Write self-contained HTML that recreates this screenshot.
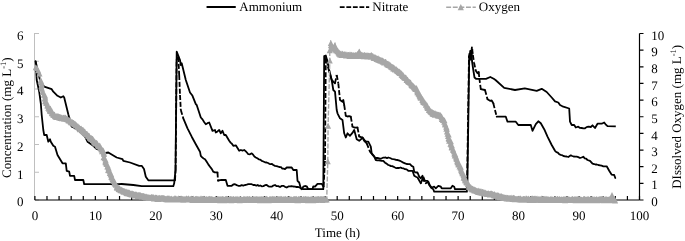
<!DOCTYPE html><html><head><meta charset="utf-8"><style>
html,body{margin:0;padding:0;background:#fff}
body{width:685px;height:241px;position:relative;overflow:hidden;font-family:"Liberation Serif", serif;font-size:13px;color:#000}
</style></head><body>
<svg width="685" height="241" viewBox="0 0 685 241" style="position:absolute;left:0;top:0;will-change:transform;opacity:0.999">
<path d="M34.5 33.0V200.0M34.5 200.00h4.5M34.5 172.25h4.5M34.5 144.50h4.5M34.5 116.75h4.5M34.5 89.00h4.5M34.5 61.25h4.5M34.5 33.50h4.5" stroke="#bfbfbf" stroke-width="1" fill="none"/>
<path d="M35.6 61.2L38.0 72.0L40.0 80.0L44.2 86.7L51.7 89.2L53.3 91.7L57.5 95.8L60.8 97.5L63.3 96.2L64.2 97.5L68.3 114.2L71.7 126.7L75.8 128.3L80.0 131.7L85.0 136.7L87.5 141.7L93.3 145.8L96.7 149.0L100.0 150.0L103.3 153.3L108.3 152.5L116.7 157.5L122.5 159.2L123.3 160.8L130.0 162.5L139.2 165.8L141.7 165.8L144.0 169.0L145.8 176.7L148.3 180.3L175.0 180.3M176.6 60.0L178.3 57.0M183.3 118.3L187.5 128.3L191.7 136.7L195.8 144.2L200.0 151.7L200.8 155.8L202.2 157.4L203.6 158.5L205.0 159.2L206.7 161.8L208.3 164.4L210.0 166.7L211.7 168.9L213.3 171.7L214.7 172.3L216.1 172.3L217.5 172.5M218.0 180.8L219.8 180.2L221.7 180.0L225.8 180.0L227.5 185.8L231.7 185.8L233.3 184.5L235.0 184.2L236.7 185.1L238.3 185.8L240.0 185.8L241.7 185.1L243.3 185.6L245.0 185.0L246.7 184.6L248.3 184.1L250.0 184.2L251.7 184.2L253.3 185.0L255.0 185.0L256.3 185.7L257.7 185.0L259.0 185.9L260.4 185.5L261.7 186.3L263.4 186.1L265.0 185.2L266.7 185.0L268.4 186.3L270.0 186.7L271.7 186.7L273.3 185.6L275.0 185.0L276.7 186.2L278.3 186.1L280.0 187.0L281.6 185.9L283.3 185.8L285.0 186.8L286.7 187.5L288.4 186.4L290.0 186.3L291.7 186.1L293.3 186.5L295.0 186.7L296.6 187.0L298.3 187.0L300.0 187.7L301.7 189.2L303.3 186.7L305.0 186.0L306.7 186.3L308.3 189.2L312.5 189.2L313.3 186.3L315.0 186.7L317.5 183.8L321.7 183.8L323.6 186.7M325.8 58.0L326.9 60.0M331.7 80.0L335.0 83.3M340.0 100.0L342.5 101.7L343.3 100.0L344.2 105.0M345.8 115.8L347.5 116.5L349.1 116.2L350.8 116.7M352.5 126.7L354.2 127.5L355.8 127.7L357.5 127.5M359.2 136.7L360.9 137.0L362.5 137.5L364.2 140.8L366.7 143.3M370.0 151.7L371.4 153.3L372.8 155.1L374.2 156.7L375.8 160.0L377.3 160.3L378.8 160.4L380.3 160.5L381.8 160.8L383.3 160.8L385.0 162.7L386.6 163.6L388.3 165.0L389.6 165.4L391.0 166.2L392.3 166.2L393.7 166.8L395.0 167.5L396.4 168.2L397.8 167.8L399.1 168.0L400.5 167.5L401.9 168.1L403.3 168.3L405.0 169.2L406.6 169.4L408.3 170.8L412.5 170.8L414.2 175.8L415.9 176.8L417.5 177.5L420.8 183.3M425.8 183.3L428.3 181.7L430.8 187.5L433.3 189.2L434.2 191.7L466.9 191.7L467.0 189.0M469.0 56.0L470.0 60.0M475.8 70.8L477.5 73.2L478.7 72.0M480.8 89.2L485.0 90.0M487.5 99.2L490.0 100.8L491.7 100.5L493.3 103.3M496.7 116.7L505.8 116.7L507.5 121.7L515.8 121.7L518.3 125.0L530.8 125.0L532.5 130.8L535.8 124.2L538.3 121.3L540.8 123.3L544.2 129.2L547.5 136.7L551.7 145.0L555.0 150.8L556.4 152.1L557.8 152.6L559.2 154.2L560.7 154.9L562.1 155.2L563.5 156.0L565.0 156.3L566.6 156.5L568.3 157.0L570.8 155.3L572.2 156.0L573.6 156.5L575.0 156.7L576.7 156.6L578.3 157.1L580.0 158.0L581.6 157.5L583.3 156.7L584.7 158.3L586.1 158.6L587.5 160.0L590.0 160.8L592.5 163.7L594.0 164.0L595.4 164.5L596.8 164.5L598.3 165.0L600.0 165.3L601.6 165.7L603.3 166.3L606.7 166.3L609.2 170.8L611.7 174.7L614.2 175.0L615.3 178.0" fill="none" stroke="#000" stroke-width="1.8" stroke-linejoin="round" stroke-linecap="round"/>
<path d="M175.0 180.3L175.6 170.0" fill="none" stroke="#000" stroke-width="1.8" stroke-dasharray="5 1.9"/>
<path d="M175.6 170.0L176.6 60.0" fill="none" stroke="#000" stroke-width="1.8" stroke-dasharray="5 1.9"/>
<path d="M178.3 57.0L179.2 75.0" fill="none" stroke="#000" stroke-width="1.8" stroke-dasharray="5 1.9"/>
<path d="M179.2 75.0L180.0 95.0" fill="none" stroke="#000" stroke-width="1.8" stroke-dasharray="5 1.9"/>
<path d="M180.0 95.0L180.8 110.0" fill="none" stroke="#000" stroke-width="1.8" stroke-dasharray="5 1.9"/>
<path d="M180.8 110.0L183.3 118.3" fill="none" stroke="#000" stroke-width="1.8" stroke-dasharray="5 1.9"/>
<path d="M217.5 172.5L218.0 180.8" fill="none" stroke="#000" stroke-width="1.8" stroke-dasharray="5 1.9"/>
<path d="M323.6 186.7L325.0 160.0" fill="none" stroke="#000" stroke-width="1.8" stroke-dasharray="5 1.9"/>
<path d="M325.0 160.0L325.8 58.0" fill="none" stroke="#000" stroke-width="1.8" stroke-dasharray="5 1.9"/>
<path d="M326.9 60.0L328.2 68.0" fill="none" stroke="#000" stroke-width="1.8" stroke-dasharray="5 1.9"/>
<path d="M328.2 68.0L331.7 80.0" fill="none" stroke="#000" stroke-width="1.8" stroke-dasharray="5 1.9"/>
<path d="M335.0 83.3L336.7 75.0" fill="none" stroke="#000" stroke-width="1.8" stroke-dasharray="5 1.9"/>
<path d="M336.7 75.0L338.3 83.3" fill="none" stroke="#000" stroke-width="1.8" stroke-dasharray="5 1.9"/>
<path d="M338.3 83.3L340.0 100.0" fill="none" stroke="#000" stroke-width="1.8" stroke-dasharray="5 1.9"/>
<path d="M344.2 105.0L345.8 115.8" fill="none" stroke="#000" stroke-width="1.8" stroke-dasharray="5 1.9"/>
<path d="M350.8 116.7L352.5 126.7" fill="none" stroke="#000" stroke-width="1.8" stroke-dasharray="5 1.9"/>
<path d="M357.5 127.5L359.2 136.7" fill="none" stroke="#000" stroke-width="1.8" stroke-dasharray="5 1.9"/>
<path d="M366.7 143.3L370.0 151.7" fill="none" stroke="#000" stroke-width="1.8" stroke-dasharray="5 1.9"/>
<path d="M420.8 183.3L423.3 176.7" fill="none" stroke="#000" stroke-width="1.8" stroke-dasharray="5 1.9"/>
<path d="M423.3 176.7L425.8 183.3" fill="none" stroke="#000" stroke-width="1.8" stroke-dasharray="5 1.9"/>
<path d="M467.0 189.0L469.0 56.0" fill="none" stroke="#000" stroke-width="1.8" stroke-dasharray="5 1.9"/>
<path d="M470.0 60.0L470.6 53.0" fill="none" stroke="#000" stroke-width="1.8" stroke-dasharray="5 1.9"/>
<path d="M470.6 53.0L471.2 59.0" fill="none" stroke="#000" stroke-width="1.8" stroke-dasharray="5 1.9"/>
<path d="M471.2 59.0L472.2 49.0" fill="none" stroke="#000" stroke-width="1.8" stroke-dasharray="5 1.9"/>
<path d="M472.2 49.0L472.9 55.0" fill="none" stroke="#000" stroke-width="1.8" stroke-dasharray="5 1.9"/>
<path d="M472.9 55.0L474.0 62.5" fill="none" stroke="#000" stroke-width="1.8" stroke-dasharray="5 1.9"/>
<path d="M474.0 62.5L475.8 70.8" fill="none" stroke="#000" stroke-width="1.8" stroke-dasharray="5 1.9"/>
<path d="M478.7 72.0L479.3 78.0" fill="none" stroke="#000" stroke-width="1.8" stroke-dasharray="5 1.9"/>
<path d="M479.3 78.0L480.8 89.2" fill="none" stroke="#000" stroke-width="1.8" stroke-dasharray="5 1.9"/>
<path d="M485.0 90.0L487.5 99.2" fill="none" stroke="#000" stroke-width="1.8" stroke-dasharray="5 1.9"/>
<path d="M493.3 103.3L496.7 116.7" fill="none" stroke="#000" stroke-width="1.8" stroke-dasharray="5 1.9"/>
<polyline points="35.6,61.2 36.7,80.0 39.2,91.7 40.8,103.3 41.7,115.0 43.3,130.0 44.2,135.0 46.7,135.0 48.3,141.7 50.0,139.2 50.8,141.7 53.3,145.8 55.0,146.7 57.5,155.0 62.5,163.3 65.8,163.3 66.7,170.8 69.2,171.7 70.0,175.8 74.2,175.8 75.0,180.0 83.3,180.0 84.2,184.2 118.3,184.2 121.7,184.0 133.3,185.0 141.7,186.2 173.3,186.2 174.2,183.3 175.5,170.0 176.7,51.7 180.0,60.0 180.8,65.0 181.7,63.3 185.8,80.0 190.0,92.5 192.5,95.8 195.8,104.2 196.7,105.0 200.8,117.5 202.5,119.4 204.1,122.0 205.8,124.2 207.5,123.2 209.2,122.5 212.5,130.8 215.0,130.0 215.8,132.5 217.5,131.4 219.2,130.0 220.8,133.3 222.5,130.8 224.2,135.0 225.8,135.0 229.2,140.8 230.6,142.6 231.9,143.7 233.3,145.8 235.8,145.3 239.2,150.8 240.9,150.0 242.5,150.6 244.2,150.0 245.6,151.1 246.9,152.5 248.3,154.2 250.0,154.3 251.7,153.3 253.1,154.7 254.4,156.5 255.8,157.5 257.3,158.3 258.8,159.3 260.2,159.6 261.7,160.8 263.4,161.5 265.0,162.3 266.7,162.5 268.0,163.0 269.3,163.8 270.7,164.2 272.0,164.0 273.3,165.0 275.0,165.9 276.6,166.2 278.3,166.7 279.6,167.0 281.0,167.2 282.3,168.6 283.7,168.7 285.0,169.2 286.7,167.5 291.7,167.5 293.3,170.0 296.7,170.0 297.5,180.8 299.2,182.5 300.8,188.3 303.3,189.2 323.3,189.2 324.2,56.0 325.8,55.5 327.5,62.0 329.2,70.0 331.7,80.0 333.3,90.0 335.0,91.7 336.7,110.0 337.5,113.3 340.0,118.3 342.5,120.0 344.2,133.3 345.8,137.5 347.5,133.3 350.0,135.8 351.4,134.1 352.8,132.4 354.2,130.0 356.7,139.2 359.2,140.8 360.9,139.4 362.5,137.5 365.0,140.8 366.6,141.7 368.3,141.7 370.8,146.7 371.7,153.3 373.4,155.3 375.0,157.5 376.3,158.0 377.7,157.8 379.0,158.5 380.4,158.6 381.7,158.3 383.0,157.7 384.3,157.6 385.7,157.5 387.0,158.2 388.3,157.5 390.0,158.0 391.6,158.8 393.3,159.2 394.6,159.3 396.0,159.8 397.3,160.0 398.7,160.3 400.0,160.8 401.7,161.7 403.3,162.6 405.0,163.3 406.7,164.0 408.3,164.1 410.0,164.2 411.6,165.9 413.3,166.7 414.2,171.7 415.9,172.5 417.5,172.5 419.2,176.7 420.8,178.3 422.5,175.8 423.3,180.8 427.5,180.8 429.2,185.0 431.7,187.5 434.2,186.7 435.8,188.3 438.3,185.8 440.8,186.7 441.7,188.3 450.8,188.3 452.5,185.8 454.2,186.7 455.0,189.2 467.3,189.2 469.3,54.0 469.6,58.0 470.2,51.0 470.8,57.0 471.9,47.3 471.6,55.0 472.0,61.0 473.3,70.0 474.5,77.5 476.0,78.8 486.0,78.8 490.3,77.0 493.7,78.8 495.5,80.0 504.2,87.8 515.0,90.0 524.8,88.4 536.7,90.8 541.7,88.8 546.7,92.0 551.7,97.5 555.0,101.3 558.3,102.5 560.0,105.0 563.3,106.7 569.2,108.5 570.0,121.7 571.7,125.0 574.2,125.0 575.8,127.5 578.3,126.7 580.0,127.9 581.7,128.0 583.4,128.3 585.0,128.3 586.6,127.1 588.3,126.7 590.8,127.0 592.5,125.3 595.0,128.0 597.5,123.7 601.7,123.7 604.2,122.5 605.9,124.7 607.5,126.2 615.8,126.3" fill="none" stroke="#000" stroke-width="1.8" stroke-linejoin="round"/>
<path d="M34.9 200.0H639.5M34.90 200.0v-4M46.99 200.0v-4M59.08 200.0v-4M71.18 200.0v-4M83.27 200.0v-4M95.36 200.0v-4M107.45 200.0v-4M119.54 200.0v-4M131.64 200.0v-4M143.73 200.0v-4M155.82 200.0v-4M167.91 200.0v-4M180.00 200.0v-4M192.10 200.0v-4M204.19 200.0v-4M216.28 200.0v-4M228.37 200.0v-4M240.46 200.0v-4M252.56 200.0v-4M264.65 200.0v-4M276.74 200.0v-4M288.83 200.0v-4M300.92 200.0v-4M313.02 200.0v-4M325.11 200.0v-4M337.20 200.0v-4M349.29 200.0v-4M361.38 200.0v-4M373.48 200.0v-4M385.57 200.0v-4M397.66 200.0v-4M409.75 200.0v-4M421.84 200.0v-4M433.94 200.0v-4M446.03 200.0v-4M458.12 200.0v-4M470.21 200.0v-4M482.30 200.0v-4M494.40 200.0v-4M506.49 200.0v-4M518.58 200.0v-4M530.67 200.0v-4M542.76 200.0v-4M554.86 200.0v-4M566.95 200.0v-4M579.04 200.0v-4M591.13 200.0v-4M603.22 200.0v-4M615.32 200.0v-4M627.41 200.0v-4M639.50 200.0v-4" stroke="#000" stroke-width="1.2" fill="none"/>
<path d="M639.5 33.5V200.0M639.5 200.00h4M639.5 183.35h4M639.5 166.70h4M639.5 150.05h4M639.5 133.40h4M639.5 116.75h4M639.5 100.10h4M639.5 83.45h4M639.5 66.80h4M639.5 50.15h4M639.5 33.50h4" stroke="#000" stroke-width="1.2" fill="none"/>
<polyline points="35.7,67.3 37.5,68.5 39.5,73.5 40.9,81.0 42.8,90.0 45.4,100.0 48.6,107.5 52.2,112.5 56.0,115.8 60.5,117.0 65.0,117.5 70.0,120.0 73.3,122.8 83.3,130.3 91.7,138.0 98.3,144.6 103.3,151.5 105.0,160.0 109.2,171.0 112.5,178.3 116.7,186.2 123.3,190.8 133.3,193.8 146.7,196.6 160.0,197.9 175.0,198.5 214.0,198.9 325.5,198.9 326.7,199.5 327.8,161.2 328.1,125.8 329.8,60.5 329.7,50.3 330.9,43.0 332.0,46.0 333.5,48.0 335.0,44.2 336.0,49.0 340.0,53.3 348.3,54.7 356.7,55.0 358.3,54.0 359.3,51.0 360.3,54.5 364.0,55.0 364.4,54.0 364.8,55.0 371.0,55.6 371.4,54.6 371.8,55.8 378.3,58.4 385.0,61.6 391.7,66.2 399.0,71.2 406.3,78.3 415.8,88.3 423.2,100.0 429.0,109.2 433.3,113.0 440.3,115.0 443.8,120.0 447.0,130.0 449.0,138.3 452.6,148.3 455.2,155.0 457.0,160.0 461.2,170.0 465.2,180.0 469.0,185.8 473.3,189.2 481.7,191.7 493.3,194.0 505.0,197.2 521.7,198.6 569.0,199.0 609.5,199.1 615.2,199.3" fill="none" stroke="#a6a6a6" stroke-width="1.4" stroke-dasharray="4.9 1.7"/>
<path d="M35.7 64.3L38.7 70.3L32.7 70.3ZM37.0 65.1L40.0 71.1L34.0 71.1ZM38.2 67.2L41.2 73.2L35.2 73.2ZM39.5 70.4L42.5 76.4L36.5 76.4ZM40.7 76.9L43.7 82.9L37.7 82.9ZM40.6 77.6L43.6 83.6L37.6 83.6ZM41.5 79.2L44.5 85.2L38.5 85.2ZM41.7 81.3L44.7 87.3L38.7 87.3ZM41.3 83.2L44.3 89.2L38.3 89.2ZM41.6 84.7L44.6 90.7L38.6 90.7ZM42.0 85.8L45.0 91.8L39.0 91.8ZM42.9 88.5L45.9 94.5L39.9 94.5ZM42.8 88.9L45.8 94.9L39.8 94.9ZM43.9 91.4L46.9 97.4L40.9 97.4ZM44.2 91.8L47.2 97.8L41.2 97.8ZM45.1 92.6L48.1 98.6L42.1 98.6ZM45.3 94.4L48.3 100.4L42.3 100.4ZM44.6 95.4L47.6 101.4L41.6 101.4ZM45.2 97.8L48.2 103.8L42.2 103.8ZM45.3 98.3L48.3 104.3L42.3 104.3ZM46.4 98.8L49.4 104.8L43.4 104.8ZM46.6 99.1L49.6 105.1L43.6 105.1ZM46.2 100.1L49.2 106.1L43.2 106.1ZM47.5 101.3L50.5 107.3L44.5 107.3ZM47.3 102.4L50.3 108.4L44.3 108.4ZM47.8 102.7L50.8 108.7L44.8 108.7ZM48.7 104.2L51.7 110.2L45.7 110.2ZM48.2 104.8L51.2 110.8L45.2 110.8ZM49.0 105.8L52.0 111.8L46.0 111.8ZM49.6 105.3L52.6 111.3L46.6 111.3ZM50.4 105.5L53.4 111.5L47.4 111.5ZM49.9 107.1L52.9 113.1L46.9 113.1ZM49.8 107.1L52.8 113.1L46.8 113.1ZM50.0 107.9L53.0 113.9L47.0 113.9ZM51.4 108.2L54.4 114.2L48.4 114.2ZM52.0 108.3L55.0 114.3L49.0 114.3ZM51.8 109.7L54.8 115.7L48.8 115.7ZM52.1 110.1L55.1 116.1L49.1 116.1ZM52.5 110.4L55.5 116.4L49.5 116.4ZM52.8 110.5L55.8 116.5L49.8 116.5ZM53.2 111.4L56.2 117.4L50.2 117.4ZM53.5 111.8L56.5 117.8L50.5 117.8ZM53.9 111.4L56.9 117.4L50.9 117.4ZM54.2 112.0L57.2 118.0L51.2 118.0ZM54.6 111.4L57.6 117.4L51.6 117.4ZM54.9 112.7L57.9 118.7L51.9 118.7ZM55.3 112.9L58.3 118.9L52.3 118.9ZM55.6 113.7L58.6 119.7L52.6 119.7ZM56.0 113.8L59.0 119.8L53.0 119.8ZM56.3 113.1L59.3 119.1L53.3 119.1ZM56.7 113.4L59.7 119.4L53.7 119.4ZM57.0 113.9L60.0 119.9L54.0 119.9ZM57.4 113.0L60.4 119.0L54.4 119.0ZM57.7 113.7L60.7 119.7L54.7 119.7ZM58.1 113.4L61.1 119.4L55.1 119.4ZM58.4 113.4L61.4 119.4L55.4 119.4ZM58.8 113.4L61.8 119.4L55.8 119.4ZM59.1 114.6L62.1 120.6L56.1 120.6ZM59.5 113.7L62.5 119.7L56.5 119.7ZM59.8 114.0L62.8 120.0L56.8 120.0ZM60.2 114.3L63.2 120.3L57.2 120.3ZM60.5 115.1L63.5 121.1L57.5 121.1ZM60.9 114.0L63.9 120.0L57.9 120.0ZM61.2 114.6L64.2 120.6L58.2 120.6ZM61.6 114.7L64.6 120.7L58.6 120.7ZM61.9 115.3L64.9 121.3L58.9 121.3ZM62.3 115.2L65.3 121.2L59.3 121.2ZM62.6 115.3L65.6 121.3L59.6 121.3ZM63.0 114.5L66.0 120.5L60.0 120.5ZM63.3 114.7L66.3 120.7L60.3 120.7ZM63.7 114.7L66.7 120.7L60.7 120.7ZM64.0 115.5L67.0 121.5L61.0 121.5ZM64.4 115.7L67.4 121.7L61.4 121.7ZM64.7 114.5L67.7 120.5L61.7 120.5ZM65.1 114.6L68.1 120.6L62.1 120.6ZM65.4 114.8L68.4 120.8L62.4 120.8ZM65.8 115.0L68.8 121.0L62.8 121.0ZM66.1 115.6L69.1 121.6L63.1 121.6ZM66.5 115.9L69.5 121.9L63.5 121.9ZM66.8 115.6L69.8 121.6L63.8 121.6ZM67.2 115.4L70.2 121.4L64.2 121.4ZM67.5 116.2L70.5 122.2L64.5 122.2ZM67.9 116.3L70.9 122.3L64.9 122.3ZM68.2 116.7L71.2 122.7L65.2 122.7ZM68.6 117.5L71.6 123.5L65.6 123.5ZM68.9 117.3L71.9 123.3L65.9 123.3ZM69.2 117.2L72.2 123.2L66.2 123.2ZM69.6 117.5L72.6 123.5L66.6 123.5ZM69.9 117.8L72.9 123.8L66.9 123.8ZM70.3 117.1L73.3 123.1L67.3 123.1ZM70.6 118.7L73.6 124.7L67.6 124.7ZM71.0 118.8L74.0 124.8L68.0 124.8ZM71.3 119.3L74.3 125.3L68.3 125.3ZM71.7 119.4L74.7 125.4L68.7 125.4ZM72.0 119.1L75.0 125.1L69.0 125.1ZM72.4 119.4L75.4 125.4L69.4 125.4ZM72.7 119.3L75.7 125.3L69.7 125.3ZM73.1 120.4L76.1 126.4L70.1 126.4ZM73.4 119.8L76.4 125.8L70.4 125.8ZM73.8 120.1L76.8 126.1L70.8 126.1ZM74.1 120.6L77.1 126.6L71.1 126.6ZM74.5 120.7L77.5 126.7L71.5 126.7ZM74.8 121.3L77.8 127.3L71.8 127.3ZM75.2 121.1L78.2 127.1L72.2 127.1ZM75.5 121.3L78.5 127.3L72.5 127.3ZM75.9 121.8L78.9 127.8L72.9 127.8ZM76.2 122.0L79.2 128.0L73.2 128.0ZM76.6 122.6L79.6 128.6L73.6 128.6ZM76.9 122.4L79.9 128.4L73.9 128.4ZM77.3 123.9L80.3 129.9L74.3 129.9ZM77.6 123.8L80.6 129.8L74.6 129.8ZM78.0 123.3L81.0 129.3L75.0 129.3ZM78.3 123.8L81.3 129.8L75.3 129.8ZM78.7 124.2L81.7 130.2L75.7 130.2ZM79.0 124.5L82.0 130.5L76.0 130.5ZM79.4 124.4L82.4 130.4L76.4 130.4ZM79.7 125.7L82.7 131.7L76.7 131.7ZM80.1 126.2L83.1 132.2L77.1 132.2ZM80.4 125.7L83.4 131.7L77.4 131.7ZM80.8 126.0L83.8 132.0L77.8 132.0ZM81.1 125.6L84.1 131.6L78.1 131.6ZM81.5 125.9L84.5 131.9L78.5 131.9ZM81.8 126.5L84.8 132.5L78.8 132.5ZM82.2 126.7L85.2 132.7L79.2 132.7ZM82.5 127.8L85.5 133.8L79.5 133.8ZM82.9 127.0L85.9 133.0L79.9 133.0ZM83.2 127.1L86.2 133.1L80.2 133.1ZM83.6 128.8L86.6 134.8L80.6 134.8ZM83.9 128.5L86.9 134.5L80.9 134.5ZM84.3 128.2L87.3 134.2L81.3 134.2ZM84.6 129.2L87.6 135.2L81.6 135.2ZM85.0 128.7L88.0 134.7L82.0 134.7ZM85.3 129.8L88.3 135.8L82.3 135.8ZM85.7 130.8L88.7 136.8L82.7 136.8ZM86.0 130.9L89.0 136.9L83.0 136.9ZM86.4 131.0L89.4 137.0L83.4 137.0ZM86.7 130.7L89.7 136.7L83.7 136.7ZM87.1 131.1L90.1 137.1L84.1 137.1ZM87.4 131.2L90.4 137.2L84.4 137.2ZM87.8 132.4L90.8 138.4L84.8 138.4ZM88.1 132.3L91.1 138.3L85.1 138.3ZM88.5 133.0L91.5 139.0L85.5 139.0ZM88.8 132.7L91.8 138.7L85.8 138.7ZM89.2 132.8L92.2 138.8L86.2 138.8ZM89.5 134.0L92.5 140.0L86.5 140.0ZM89.9 134.6L92.9 140.6L86.9 140.6ZM90.2 134.7L93.2 140.7L87.2 140.7ZM90.6 135.0L93.6 141.0L87.6 141.0ZM90.9 135.3L93.9 141.3L87.9 141.3ZM91.3 135.5L94.3 141.5L88.3 141.5ZM91.6 135.1L94.6 141.1L88.6 141.1ZM92.0 135.9L95.0 141.9L89.0 141.9ZM92.3 136.0L95.3 142.0L89.3 142.0ZM92.7 135.8L95.7 141.8L89.7 141.8ZM93.0 136.2L96.0 142.2L90.0 142.2ZM93.4 136.9L96.4 142.9L90.4 142.9ZM93.7 137.2L96.7 143.2L90.7 143.2ZM94.1 138.2L97.1 144.2L91.1 144.2ZM94.4 139.0L97.4 145.0L91.4 145.0ZM94.8 138.6L97.8 144.6L91.8 144.6ZM95.1 139.7L98.1 145.7L92.1 145.7ZM95.5 140.1L98.5 146.1L92.5 146.1ZM95.8 140.4L98.8 146.4L92.8 146.4ZM96.2 139.8L99.2 145.8L93.2 145.8ZM96.5 140.0L99.5 146.0L93.5 146.0ZM96.9 140.3L99.9 146.3L93.9 146.3ZM97.2 140.6L100.2 146.6L94.2 146.6ZM97.6 141.0L100.6 147.0L94.6 147.0ZM97.9 142.0L100.9 148.0L94.9 148.0ZM98.3 142.8L101.3 148.8L95.3 148.8ZM98.6 143.1L101.6 149.1L95.6 149.1ZM99.0 143.0L102.0 149.0L96.0 149.0ZM99.8 142.6L102.8 148.6L96.8 148.6ZM99.9 144.4L102.9 150.4L96.9 150.4ZM100.5 144.6L103.5 150.6L97.5 150.6ZM100.4 144.2L103.4 150.2L97.4 150.2ZM101.2 144.9L104.2 150.9L98.2 150.9ZM101.6 146.4L104.6 152.4L98.6 152.4ZM101.3 146.0L104.3 152.0L98.3 152.0ZM102.5 147.0L105.5 153.0L99.5 153.0ZM101.7 146.5L104.7 152.5L98.7 152.5ZM102.0 148.2L105.0 154.2L99.0 154.2ZM103.3 147.5L106.3 153.5L100.3 153.5ZM103.7 149.3L106.7 155.3L100.7 155.3ZM103.8 149.7L106.8 155.7L100.8 155.7ZM104.0 151.1L107.0 157.1L101.0 157.1ZM103.5 154.2L106.5 160.2L100.5 160.2ZM104.8 155.2L107.8 161.2L101.8 161.2ZM105.6 156.8L108.6 162.8L102.6 162.8ZM105.9 158.5L108.9 164.5L102.9 164.5ZM105.2 158.5L108.2 164.5L102.2 164.5ZM105.7 159.4L108.7 165.4L102.7 165.4ZM106.5 160.4L109.5 166.4L103.5 166.4ZM106.6 161.1L109.6 167.1L103.6 167.1ZM107.7 162.3L110.7 168.3L104.7 168.3ZM107.3 163.6L110.3 169.6L104.3 169.6ZM108.4 164.3L111.4 170.3L105.4 170.3ZM108.7 165.3L111.7 171.3L105.7 171.3ZM108.5 166.3L111.5 172.3L105.5 172.3ZM108.1 167.1L111.1 173.1L105.1 173.1ZM108.7 167.3L111.7 173.3L105.7 173.3ZM109.9 168.3L112.9 174.3L106.9 174.3ZM109.8 170.0L112.8 176.0L106.8 176.0ZM110.3 170.1L113.3 176.1L107.3 176.1ZM110.6 171.3L113.6 177.3L107.6 177.3ZM111.3 171.3L114.3 177.3L108.3 177.3ZM111.3 172.3L114.3 178.3L108.3 178.3ZM111.3 173.9L114.3 179.9L108.3 179.9ZM112.0 174.4L115.0 180.4L109.0 180.4ZM112.7 175.7L115.7 181.7L109.7 181.7ZM112.6 176.0L115.6 182.0L109.6 182.0ZM113.0 176.5L116.0 182.5L110.0 182.5ZM113.6 177.0L116.6 183.0L110.6 183.0ZM113.7 177.7L116.7 183.7L110.7 183.7ZM114.7 178.7L117.7 184.7L111.7 184.7ZM115.0 179.8L118.0 185.8L112.0 185.8ZM114.4 179.8L117.4 185.8L111.4 185.8ZM115.8 180.9L118.8 186.9L112.8 186.9ZM114.9 180.4L117.9 186.4L111.9 186.4ZM115.7 181.0L118.7 187.0L112.7 187.0ZM115.8 181.7L118.8 187.7L112.8 187.7ZM116.8 183.5L119.8 189.5L113.8 189.5ZM116.8 184.5L119.8 190.5L113.8 190.5ZM117.2 183.6L120.2 189.6L114.2 189.6ZM117.5 184.7L120.5 190.7L114.5 190.7ZM117.9 184.8L120.9 190.8L114.9 190.8ZM118.2 184.3L121.2 190.3L115.2 190.3ZM118.6 185.6L121.6 191.6L115.6 191.6ZM118.9 186.0L121.9 192.0L115.9 192.0ZM119.3 185.1L122.3 191.1L116.3 191.1ZM119.6 186.5L122.6 192.5L116.6 192.5ZM120.0 185.9L123.0 191.9L117.0 191.9ZM120.3 186.3L123.3 192.3L117.3 192.3ZM120.7 187.3L123.7 193.3L117.7 193.3ZM121.0 187.3L124.0 193.3L118.0 193.3ZM121.4 186.5L124.4 192.5L118.4 192.5ZM121.7 187.2L124.7 193.2L118.7 193.2ZM122.1 187.5L125.1 193.5L119.1 193.5ZM122.4 187.5L125.4 193.5L119.4 193.5ZM122.8 187.5L125.8 193.5L119.8 193.5ZM123.1 188.0L126.1 194.0L120.1 194.0ZM123.5 188.7L126.5 194.7L120.5 194.7ZM123.8 187.8L126.8 193.8L120.8 193.8ZM124.2 188.7L127.2 194.7L121.2 194.7ZM124.5 188.6L127.5 194.6L121.5 194.6ZM124.9 188.1L127.9 194.1L121.9 194.1ZM125.2 188.7L128.2 194.7L122.2 194.7ZM125.6 189.2L128.6 195.2L122.6 195.2ZM125.9 189.2L128.9 195.2L122.9 195.2ZM126.3 188.6L129.3 194.6L123.3 194.6ZM126.6 190.1L129.6 196.1L123.6 196.1ZM127.0 189.9L130.0 195.9L124.0 195.9ZM127.3 190.3L130.3 196.3L124.3 196.3ZM127.7 189.1L130.7 195.1L124.7 195.1ZM128.0 189.4L131.0 195.4L125.0 195.4ZM128.4 189.2L131.4 195.2L125.4 195.2ZM128.7 190.4L131.7 196.4L125.7 196.4ZM129.1 189.7L132.1 195.7L126.1 195.7ZM129.4 189.6L132.4 195.6L126.4 195.6ZM129.8 190.2L132.8 196.2L126.8 196.2ZM130.1 191.0L133.1 197.0L127.1 197.0ZM130.5 191.0L133.5 197.0L127.5 197.0ZM130.8 190.3L133.8 196.3L127.8 196.3ZM131.2 190.2L134.2 196.2L128.2 196.2ZM131.5 191.5L134.5 197.5L128.5 197.5ZM131.9 191.0L134.9 197.0L128.9 197.0ZM132.2 191.3L135.2 197.3L129.2 197.3ZM132.6 190.5L135.6 196.5L129.6 196.5ZM132.9 190.6L135.9 196.6L129.9 196.6ZM133.3 191.6L136.3 197.6L130.3 197.6ZM133.6 191.3L136.6 197.3L130.6 197.3ZM134.0 190.9L137.0 196.9L131.0 196.9ZM134.3 192.2L137.3 198.2L131.3 198.2ZM134.7 191.8L137.7 197.8L131.7 197.8ZM135.0 192.2L138.0 198.2L132.0 198.2ZM135.4 191.2L138.4 197.2L132.4 197.2ZM135.7 192.4L138.7 198.4L132.7 198.4ZM136.1 191.3L139.1 197.3L133.1 197.3ZM136.4 192.6L139.4 198.6L133.4 198.6ZM136.8 192.0L139.8 198.0L133.8 198.0ZM137.1 191.9L140.1 197.9L134.1 197.9ZM137.5 192.3L140.5 198.3L134.5 198.3ZM137.8 192.9L140.8 198.9L134.8 198.9ZM138.2 192.0L141.2 198.0L135.2 198.0ZM138.5 191.9L141.5 197.9L135.5 197.9ZM138.9 192.6L141.9 198.6L135.9 198.6ZM139.2 192.2L142.2 198.2L136.2 198.2ZM139.6 192.1L142.6 198.1L136.6 198.1ZM139.9 192.2L142.9 198.2L136.9 198.2ZM140.3 192.1L143.3 198.1L137.3 198.1ZM140.6 192.4L143.6 198.4L137.6 198.4ZM141.0 192.7L144.0 198.7L138.0 198.7ZM141.3 192.7L144.3 198.7L138.3 198.7ZM141.7 193.5L144.7 199.5L138.7 199.5ZM142.0 192.9L145.0 198.9L139.0 198.9ZM142.4 193.3L145.4 199.3L139.4 199.3ZM142.7 192.8L145.7 198.8L139.7 198.8ZM143.1 193.2L146.1 199.2L140.1 199.2ZM143.4 192.7L146.4 198.7L140.4 198.7ZM143.8 193.2L146.8 199.2L140.8 199.2ZM144.1 192.9L147.1 198.9L141.1 198.9ZM144.5 194.0L147.5 200.0L141.5 200.0ZM144.8 193.8L147.8 199.8L141.8 199.8ZM145.2 193.4L148.2 199.4L142.2 199.4ZM145.5 193.9L148.5 199.9L142.5 199.9ZM145.9 194.6L148.9 200.6L142.9 200.6ZM146.2 193.5L149.2 199.5L143.2 199.5ZM146.6 194.6L149.6 200.6L143.6 200.6ZM146.9 194.1L149.9 200.1L143.9 200.1ZM147.3 194.2L150.3 200.2L144.3 200.2ZM147.6 194.7L150.6 200.7L144.6 200.7ZM148.0 194.1L151.0 200.1L145.0 200.1ZM148.3 194.3L151.3 200.3L145.3 200.3ZM148.7 194.6L151.7 200.6L145.7 200.6ZM149.0 195.1L152.0 201.1L146.0 201.1ZM149.4 194.2L152.4 200.2L146.4 200.2ZM149.7 194.9L152.7 200.9L146.7 200.9ZM150.1 194.8L153.1 200.8L147.1 200.8ZM150.4 194.7L153.4 200.7L147.4 200.7ZM150.8 194.4L153.8 200.4L147.8 200.4ZM151.1 194.4L154.1 200.4L148.1 200.4ZM151.5 194.0L154.5 200.0L148.5 200.0ZM151.8 194.1L154.8 200.1L148.8 200.1ZM152.2 194.0L155.2 200.0L149.2 200.0ZM152.5 195.1L155.5 201.1L149.5 201.1ZM152.9 194.4L155.9 200.4L149.9 200.4ZM153.2 194.3L156.2 200.3L150.2 200.3ZM153.6 194.2L156.6 200.2L150.6 200.2ZM153.9 195.4L156.9 201.4L150.9 201.4ZM154.3 195.4L157.3 201.4L151.3 201.4ZM154.6 195.2L157.6 201.2L151.6 201.2ZM155.0 194.6L158.0 200.6L152.0 200.6ZM155.3 194.6L158.3 200.6L152.3 200.6ZM155.7 194.7L158.7 200.7L152.7 200.7ZM156.0 195.0L159.0 201.0L153.0 201.0ZM156.4 194.6L159.4 200.6L153.4 200.6ZM156.7 195.1L159.7 201.1L153.7 201.1ZM157.1 194.8L160.1 200.8L154.1 200.8ZM157.4 195.9L160.4 201.9L154.4 201.9ZM157.8 195.9L160.8 201.9L154.8 201.9ZM158.1 195.3L161.1 201.3L155.1 201.3ZM158.5 194.9L161.5 200.9L155.5 200.9ZM158.8 196.0L161.8 202.0L155.8 202.0ZM159.2 195.1L162.2 201.1L156.2 201.1ZM159.5 195.2L162.5 201.2L156.5 201.2ZM159.9 194.7L162.9 200.7L156.9 200.7ZM160.2 195.3L163.2 201.3L157.2 201.3ZM160.6 195.4L163.6 201.4L157.6 201.4ZM160.9 195.5L163.9 201.5L157.9 201.5ZM161.3 195.1L164.3 201.1L158.3 201.1ZM161.6 195.5L164.6 201.5L158.6 201.5ZM162.0 194.8L165.0 200.8L159.0 200.8ZM162.3 195.2L165.3 201.2L159.3 201.2ZM162.7 194.9L165.7 200.9L159.7 200.9ZM163.0 195.4L166.0 201.4L160.0 201.4ZM163.4 194.9L166.4 200.9L160.4 200.9ZM163.7 194.9L166.7 200.9L160.7 200.9ZM164.1 195.3L167.1 201.3L161.1 201.3ZM164.4 195.2L167.4 201.2L161.4 201.2ZM164.8 195.8L167.8 201.8L161.8 201.8ZM165.1 195.7L168.1 201.7L162.1 201.7ZM165.5 196.0L168.5 202.0L162.5 202.0ZM165.8 195.9L168.8 201.9L162.8 201.9ZM166.2 196.0L169.2 202.0L163.2 202.0ZM166.5 196.3L169.5 202.3L163.5 202.3ZM166.9 195.6L169.9 201.6L163.9 201.6ZM167.2 195.5L170.2 201.5L164.2 201.5ZM167.6 196.5L170.6 202.5L164.6 202.5ZM167.9 195.2L170.9 201.2L164.9 201.2ZM168.3 196.1L171.3 202.1L165.3 202.1ZM168.6 196.0L171.6 202.0L165.6 202.0ZM169.0 195.1L172.0 201.1L166.0 201.1ZM169.3 196.3L172.3 202.3L166.3 202.3ZM169.7 196.4L172.7 202.4L166.7 202.4ZM170.0 196.0L173.0 202.0L167.0 202.0ZM170.4 196.2L173.4 202.2L167.4 202.2ZM170.7 196.3L173.7 202.3L167.7 202.3ZM171.1 195.4L174.1 201.4L168.1 201.4ZM171.4 195.9L174.4 201.9L168.4 201.9ZM171.8 195.9L174.8 201.9L168.8 201.9ZM172.1 196.4L175.1 202.4L169.1 202.4ZM172.5 196.4L175.5 202.4L169.5 202.4ZM172.8 196.5L175.8 202.5L169.8 202.5ZM173.2 196.1L176.2 202.1L170.2 202.1ZM173.5 196.6L176.5 202.6L170.5 202.6ZM173.9 196.3L176.9 202.3L170.9 202.3ZM174.2 196.3L177.2 202.3L171.2 202.3ZM174.6 195.6L177.6 201.6L171.6 201.6ZM174.9 195.3L177.9 201.3L171.9 201.3ZM175.3 195.5L178.3 201.5L172.3 201.5ZM175.6 195.8L178.6 201.8L172.6 201.8ZM176.0 195.5L179.0 201.5L173.0 201.5ZM176.3 196.6L179.3 202.6L173.3 202.6ZM176.7 196.2L179.7 202.2L173.7 202.2ZM177.0 196.3L180.0 202.3L174.0 202.3ZM177.4 196.3L180.4 202.3L174.4 202.3ZM177.7 196.3L180.7 202.3L174.7 202.3ZM178.1 196.1L181.1 202.1L175.1 202.1ZM178.4 195.3L181.4 201.3L175.4 201.3ZM178.8 196.5L181.8 202.5L175.8 202.5ZM179.1 196.5L182.1 202.5L176.1 202.5ZM179.5 196.1L182.5 202.1L176.5 202.1ZM179.8 196.2L182.8 202.2L176.8 202.2ZM180.2 196.3L183.2 202.3L177.2 202.3ZM180.5 195.5L183.5 201.5L177.5 201.5ZM180.9 196.5L183.9 202.5L177.9 202.5ZM181.2 195.7L184.2 201.7L178.2 201.7ZM181.6 195.5L184.6 201.5L178.6 201.5ZM181.9 195.8L184.9 201.8L178.9 201.8ZM182.3 196.5L185.3 202.5L179.3 202.5ZM182.6 195.7L185.6 201.7L179.6 201.7ZM183.0 196.5L186.0 202.5L180.0 202.5ZM183.3 196.8L186.3 202.8L180.3 202.8ZM183.7 196.1L186.7 202.1L180.7 202.1ZM184.0 196.0L187.0 202.0L181.0 202.0ZM184.4 196.1L187.4 202.1L181.4 202.1ZM184.7 196.4L187.7 202.4L181.7 202.4ZM185.1 196.6L188.1 202.6L182.1 202.6ZM185.4 196.3L188.4 202.3L182.4 202.3ZM185.8 196.4L188.8 202.4L182.8 202.4ZM186.1 195.5L189.1 201.5L183.1 201.5ZM186.5 195.6L189.5 201.6L183.5 201.6ZM186.8 195.8L189.8 201.8L183.8 201.8ZM187.2 196.5L190.2 202.5L184.2 202.5ZM187.5 195.9L190.5 201.9L184.5 201.9ZM187.9 196.3L190.9 202.3L184.9 202.3ZM188.2 195.5L191.2 201.5L185.2 201.5ZM188.6 195.5L191.6 201.5L185.6 201.5ZM188.9 195.8L191.9 201.8L185.9 201.8ZM189.3 196.5L192.3 202.5L186.3 202.5ZM189.6 196.5L192.6 202.5L186.6 202.5ZM190.0 196.5L193.0 202.5L187.0 202.5ZM190.3 195.9L193.3 201.9L187.3 201.9ZM190.7 196.2L193.7 202.2L187.7 202.2ZM191.0 196.2L194.0 202.2L188.0 202.2ZM191.4 196.2L194.4 202.2L188.4 202.2ZM191.7 195.6L194.7 201.6L188.7 201.6ZM192.1 196.8L195.1 202.8L189.1 202.8ZM192.4 195.8L195.4 201.8L189.4 201.8ZM192.8 196.9L195.8 202.9L189.8 202.9ZM193.1 196.9L196.1 202.9L190.1 202.9ZM193.5 195.5L196.5 201.5L190.5 201.5ZM193.8 196.2L196.8 202.2L190.8 202.2ZM194.2 196.7L197.2 202.7L191.2 202.7ZM194.5 197.0L197.5 203.0L191.5 203.0ZM194.9 196.2L197.9 202.2L191.9 202.2ZM195.2 195.9L198.2 201.9L192.2 201.9ZM195.6 195.8L198.6 201.8L192.6 201.8ZM195.9 196.9L198.9 202.9L192.9 202.9ZM196.3 195.8L199.3 201.8L193.3 201.8ZM196.6 196.4L199.6 202.4L193.6 202.4ZM197.0 195.7L200.0 201.7L194.0 201.7ZM197.3 196.3L200.3 202.3L194.3 202.3ZM197.7 197.0L200.7 203.0L194.7 203.0ZM198.0 195.7L201.0 201.7L195.0 201.7ZM198.4 196.8L201.4 202.8L195.4 202.8ZM198.7 196.3L201.7 202.3L195.7 202.3ZM199.1 196.9L202.1 202.9L196.1 202.9ZM199.4 196.6L202.4 202.6L196.4 202.6ZM199.8 195.9L202.8 201.9L196.8 201.9ZM200.1 196.9L203.1 202.9L197.1 202.9ZM200.5 196.3L203.5 202.3L197.5 202.3ZM200.8 195.6L203.8 201.6L197.8 201.6ZM201.2 195.6L204.2 201.6L198.2 201.6ZM201.5 196.3L204.5 202.3L198.5 202.3ZM201.9 196.3L204.9 202.3L198.9 202.3ZM202.2 196.0L205.2 202.0L199.2 202.0ZM202.6 195.8L205.6 201.8L199.6 201.8ZM202.9 196.1L205.9 202.1L199.9 202.1ZM203.3 196.1L206.3 202.1L200.3 202.1ZM203.6 196.9L206.6 202.9L200.6 202.9ZM204.0 195.6L207.0 201.6L201.0 201.6ZM204.3 196.7L207.3 202.7L201.3 202.7ZM204.7 196.9L207.7 202.9L201.7 202.9ZM205.0 195.8L208.0 201.8L202.0 201.8ZM205.4 197.0L208.4 203.0L202.4 203.0ZM205.7 196.7L208.7 202.7L202.7 202.7ZM206.1 197.0L209.1 203.0L203.1 203.0ZM206.4 196.1L209.4 202.1L203.4 202.1ZM206.8 196.2L209.8 202.2L203.8 202.2ZM207.1 196.2L210.1 202.2L204.1 202.2ZM207.5 197.1L210.5 203.1L204.5 203.1ZM207.8 196.5L210.8 202.5L204.8 202.5ZM208.2 196.2L211.2 202.2L205.2 202.2ZM208.5 196.3L211.5 202.3L205.5 202.3ZM208.9 196.1L211.9 202.1L205.9 202.1ZM209.2 195.7L212.2 201.7L206.2 201.7ZM209.6 195.8L212.6 201.8L206.6 201.8ZM209.9 196.9L212.9 202.9L206.9 202.9ZM210.3 196.1L213.3 202.1L207.3 202.1ZM210.6 197.1L213.6 203.1L207.6 203.1ZM211.0 196.0L214.0 202.0L208.0 202.0ZM211.3 196.1L214.3 202.1L208.3 202.1ZM211.7 196.4L214.7 202.4L208.7 202.4ZM212.0 196.0L215.0 202.0L209.0 202.0ZM212.4 196.2L215.4 202.2L209.4 202.2ZM212.7 197.1L215.7 203.1L209.7 203.1ZM213.1 197.0L216.1 203.0L210.1 203.0ZM213.4 196.9L216.4 202.9L210.4 202.9ZM213.8 196.6L216.8 202.6L210.8 202.6ZM214.1 197.1L217.1 203.1L211.1 203.1ZM214.5 197.1L217.5 203.1L211.5 203.1ZM214.8 196.5L217.8 202.5L211.8 202.5ZM215.2 196.8L218.2 202.8L212.2 202.8ZM215.5 195.8L218.5 201.8L212.5 201.8ZM215.9 196.8L218.9 202.8L212.9 202.8ZM216.2 196.4L219.2 202.4L213.2 202.4ZM216.6 196.8L219.6 202.8L213.6 202.8ZM216.9 196.7L219.9 202.7L213.9 202.7ZM217.3 196.1L220.3 202.1L214.3 202.1ZM217.6 195.8L220.6 201.8L214.6 201.8ZM218.0 197.1L221.0 203.1L215.0 203.1ZM218.3 195.9L221.3 201.9L215.3 201.9ZM218.7 196.4L221.7 202.4L215.7 202.4ZM219.0 196.2L222.0 202.2L216.0 202.2ZM219.4 196.1L222.4 202.1L216.4 202.1ZM219.7 196.8L222.7 202.8L216.7 202.8ZM220.1 197.2L223.1 203.2L217.1 203.2ZM220.4 196.1L223.4 202.1L217.4 202.1ZM220.8 196.7L223.8 202.7L217.8 202.7ZM221.1 196.2L224.1 202.2L218.1 202.2ZM221.5 196.5L224.5 202.5L218.5 202.5ZM221.8 196.3L224.8 202.3L218.8 202.3ZM222.2 196.0L225.2 202.0L219.2 202.0ZM222.5 195.9L225.5 201.9L219.5 201.9ZM222.9 196.0L225.9 202.0L219.9 202.0ZM223.2 197.1L226.2 203.1L220.2 203.1ZM223.6 196.4L226.6 202.4L220.6 202.4ZM223.9 196.0L226.9 202.0L220.9 202.0ZM224.3 197.1L227.3 203.1L221.3 203.1ZM224.6 197.2L227.6 203.2L221.6 203.2ZM225.0 196.4L228.0 202.4L222.0 202.4ZM225.3 195.9L228.3 201.9L222.3 201.9ZM225.7 196.0L228.7 202.0L222.7 202.0ZM226.0 195.8L229.0 201.8L223.0 201.8ZM226.4 196.2L229.4 202.2L223.4 202.2ZM226.7 195.8L229.7 201.8L223.7 201.8ZM227.1 196.1L230.1 202.1L224.1 202.1ZM227.4 196.1L230.4 202.1L224.4 202.1ZM227.8 196.6L230.8 202.6L224.8 202.6ZM228.1 197.0L231.1 203.0L225.1 203.0ZM228.5 196.8L231.5 202.8L225.5 202.8ZM228.8 196.3L231.8 202.3L225.8 202.3ZM229.2 196.3L232.2 202.3L226.2 202.3ZM229.5 196.5L232.5 202.5L226.5 202.5ZM229.9 196.3L232.9 202.3L226.9 202.3ZM230.2 196.2L233.2 202.2L227.2 202.2ZM230.6 195.8L233.6 201.8L227.6 201.8ZM230.9 196.1L233.9 202.1L227.9 202.1ZM231.3 197.2L234.3 203.2L228.3 203.2ZM231.6 195.9L234.6 201.9L228.6 201.9ZM232.0 196.5L235.0 202.5L229.0 202.5ZM232.3 196.6L235.3 202.6L229.3 202.6ZM232.7 197.0L235.7 203.0L229.7 203.0ZM233.0 196.0L236.0 202.0L230.0 202.0ZM233.4 196.1L236.4 202.1L230.4 202.1ZM233.7 196.1L236.7 202.1L230.7 202.1ZM234.1 196.3L237.1 202.3L231.1 202.3ZM234.4 196.4L237.4 202.4L231.4 202.4ZM234.8 197.1L237.8 203.1L231.8 203.1ZM235.1 197.0L238.1 203.0L232.1 203.0ZM235.5 197.0L238.5 203.0L232.5 203.0ZM235.8 195.7L238.8 201.7L232.8 201.7ZM236.2 195.7L239.2 201.7L233.2 201.7ZM236.5 196.8L239.5 202.8L233.5 202.8ZM236.9 197.0L239.9 203.0L233.9 203.0ZM237.2 196.4L240.2 202.4L234.2 202.4ZM237.6 196.6L240.6 202.6L234.6 202.6ZM237.9 195.7L240.9 201.7L234.9 201.7ZM238.3 196.3L241.3 202.3L235.3 202.3ZM238.6 197.1L241.6 203.1L235.6 203.1ZM239.0 196.9L242.0 202.9L236.0 202.9ZM239.3 197.0L242.3 203.0L236.3 203.0ZM239.7 197.2L242.7 203.2L236.7 203.2ZM240.0 196.1L243.0 202.1L237.0 202.1ZM240.4 195.9L243.4 201.9L237.4 201.9ZM240.7 195.9L243.7 201.9L237.7 201.9ZM241.1 196.5L244.1 202.5L238.1 202.5ZM241.4 196.7L244.4 202.7L238.4 202.7ZM241.8 197.1L244.8 203.1L238.8 203.1ZM242.1 196.8L245.1 202.8L239.1 202.8ZM242.5 196.7L245.5 202.7L239.5 202.7ZM242.8 196.8L245.8 202.8L239.8 202.8ZM243.2 196.4L246.2 202.4L240.2 202.4ZM243.5 196.5L246.5 202.5L240.5 202.5ZM243.9 195.8L246.9 201.8L240.9 201.8ZM244.2 196.9L247.2 202.9L241.2 202.9ZM244.6 196.0L247.6 202.0L241.6 202.0ZM244.9 197.1L247.9 203.1L241.9 203.1ZM245.3 196.7L248.3 202.7L242.3 202.7ZM245.6 196.2L248.6 202.2L242.6 202.2ZM246.0 195.9L249.0 201.9L243.0 201.9ZM246.3 196.1L249.3 202.1L243.3 202.1ZM246.7 196.7L249.7 202.7L243.7 202.7ZM247.0 196.7L250.0 202.7L244.0 202.7ZM247.4 195.9L250.4 201.9L244.4 201.9ZM247.7 195.8L250.7 201.8L244.7 201.8ZM248.1 196.5L251.1 202.5L245.1 202.5ZM248.4 196.6L251.4 202.6L245.4 202.6ZM248.8 196.3L251.8 202.3L245.8 202.3ZM249.1 196.0L252.1 202.0L246.1 202.0ZM249.5 196.6L252.5 202.6L246.5 202.6ZM249.8 195.7L252.8 201.7L246.8 201.7ZM250.2 196.2L253.2 202.2L247.2 202.2ZM250.5 196.4L253.5 202.4L247.5 202.4ZM250.9 197.1L253.9 203.1L247.9 203.1ZM251.2 196.7L254.2 202.7L248.2 202.7ZM251.6 197.0L254.6 203.0L248.6 203.0ZM251.9 196.4L254.9 202.4L248.9 202.4ZM252.3 196.1L255.3 202.1L249.3 202.1ZM252.6 196.1L255.6 202.1L249.6 202.1ZM253.0 197.1L256.0 203.1L250.0 203.1ZM253.3 196.8L256.3 202.8L250.3 202.8ZM253.7 196.2L256.7 202.2L250.7 202.2ZM254.0 195.7L257.0 201.7L251.0 201.7ZM254.4 196.4L257.4 202.4L251.4 202.4ZM254.7 196.7L257.7 202.7L251.7 202.7ZM255.1 196.3L258.1 202.3L252.1 202.3ZM255.4 196.1L258.4 202.1L252.4 202.1ZM255.8 196.7L258.8 202.7L252.8 202.7ZM256.1 197.1L259.1 203.1L253.1 203.1ZM256.5 196.0L259.5 202.0L253.5 202.0ZM256.8 195.8L259.8 201.8L253.8 201.8ZM257.2 196.2L260.2 202.2L254.2 202.2ZM257.5 196.3L260.5 202.3L254.5 202.3ZM257.9 196.7L260.9 202.7L254.9 202.7ZM258.2 196.0L261.2 202.0L255.2 202.0ZM258.6 196.9L261.6 202.9L255.6 202.9ZM258.9 196.8L261.9 202.8L255.9 202.8ZM259.3 196.5L262.3 202.5L256.3 202.5ZM259.6 196.0L262.6 202.0L256.6 202.0ZM260.0 197.2L263.0 203.2L257.0 203.2ZM260.3 196.2L263.3 202.2L257.3 202.2ZM260.7 196.9L263.7 202.9L257.7 202.9ZM261.0 196.0L264.0 202.0L258.0 202.0ZM261.4 196.0L264.4 202.0L258.4 202.0ZM261.7 196.8L264.7 202.8L258.7 202.8ZM262.1 196.1L265.1 202.1L259.1 202.1ZM262.4 197.1L265.4 203.1L259.4 203.1ZM262.8 196.4L265.8 202.4L259.8 202.4ZM263.1 196.0L266.1 202.0L260.1 202.0ZM263.5 196.0L266.5 202.0L260.5 202.0ZM263.8 196.3L266.8 202.3L260.8 202.3ZM264.2 196.7L267.2 202.7L261.2 202.7ZM264.5 197.1L267.5 203.1L261.5 203.1ZM264.9 195.9L267.9 201.9L261.9 201.9ZM265.2 196.3L268.2 202.3L262.2 202.3ZM265.6 196.0L268.6 202.0L262.6 202.0ZM265.9 197.2L268.9 203.2L262.9 203.2ZM266.3 195.9L269.3 201.9L263.3 201.9ZM266.6 195.8L269.6 201.8L263.6 201.8ZM267.0 195.8L270.0 201.8L264.0 201.8ZM267.3 196.3L270.3 202.3L264.3 202.3ZM267.7 197.0L270.7 203.0L264.7 203.0ZM268.0 197.0L271.0 203.0L265.0 203.0ZM268.4 196.8L271.4 202.8L265.4 202.8ZM268.7 197.2L271.7 203.2L265.7 203.2ZM269.1 197.1L272.1 203.1L266.1 203.1ZM269.4 196.2L272.4 202.2L266.4 202.2ZM269.8 196.0L272.8 202.0L266.8 202.0ZM270.1 197.1L273.1 203.1L267.1 203.1ZM270.5 196.8L273.5 202.8L267.5 202.8ZM270.8 195.7L273.8 201.7L267.8 201.7ZM271.2 196.7L274.2 202.7L268.2 202.7ZM271.5 196.3L274.5 202.3L268.5 202.3ZM271.9 196.3L274.9 202.3L268.9 202.3ZM272.2 196.2L275.2 202.2L269.2 202.2ZM272.6 196.0L275.6 202.0L269.6 202.0ZM272.9 195.7L275.9 201.7L269.9 201.7ZM273.3 196.1L276.3 202.1L270.3 202.1ZM273.6 196.2L276.6 202.2L270.6 202.2ZM274.0 197.1L277.0 203.1L271.0 203.1ZM274.3 195.9L277.3 201.9L271.3 201.9ZM274.7 197.1L277.7 203.1L271.7 203.1ZM275.0 196.0L278.0 202.0L272.0 202.0ZM275.4 196.2L278.4 202.2L272.4 202.2ZM275.7 196.9L278.7 202.9L272.7 202.9ZM276.1 196.9L279.1 202.9L273.1 202.9ZM276.4 196.3L279.4 202.3L273.4 202.3ZM276.8 195.8L279.8 201.8L273.8 201.8ZM277.1 196.4L280.1 202.4L274.1 202.4ZM277.5 196.3L280.5 202.3L274.5 202.3ZM277.8 197.1L280.8 203.1L274.8 203.1ZM278.2 196.0L281.2 202.0L275.2 202.0ZM278.5 196.2L281.5 202.2L275.5 202.2ZM278.9 197.0L281.9 203.0L275.9 203.0ZM279.2 195.7L282.2 201.7L276.2 201.7ZM279.6 196.3L282.6 202.3L276.6 202.3ZM279.9 196.9L282.9 202.9L276.9 202.9ZM280.3 196.9L283.3 202.9L277.3 202.9ZM280.6 195.8L283.6 201.8L277.6 201.8ZM281.0 195.8L284.0 201.8L278.0 201.8ZM281.3 195.8L284.3 201.8L278.3 201.8ZM281.7 197.1L284.7 203.1L278.7 203.1ZM282.0 196.1L285.0 202.1L279.0 202.1ZM282.4 196.8L285.4 202.8L279.4 202.8ZM282.7 197.0L285.7 203.0L279.7 203.0ZM283.1 196.2L286.1 202.2L280.1 202.2ZM283.4 196.1L286.4 202.1L280.4 202.1ZM283.8 197.1L286.8 203.1L280.8 203.1ZM284.1 196.6L287.1 202.6L281.1 202.6ZM284.5 196.1L287.5 202.1L281.5 202.1ZM284.8 196.8L287.8 202.8L281.8 202.8ZM285.2 196.2L288.2 202.2L282.2 202.2ZM285.5 196.1L288.5 202.1L282.5 202.1ZM285.9 195.7L288.9 201.7L282.9 201.7ZM286.2 196.8L289.2 202.8L283.2 202.8ZM286.6 197.1L289.6 203.1L283.6 203.1ZM286.9 196.7L289.9 202.7L283.9 202.7ZM287.3 197.1L290.3 203.1L284.3 203.1ZM287.6 195.7L290.6 201.7L284.6 201.7ZM288.0 196.1L291.0 202.1L285.0 202.1ZM288.3 196.4L291.3 202.4L285.3 202.4ZM288.7 197.1L291.7 203.1L285.7 203.1ZM289.0 197.1L292.0 203.1L286.0 203.1ZM289.4 196.3L292.4 202.3L286.4 202.3ZM289.7 196.1L292.7 202.1L286.7 202.1ZM290.1 196.3L293.1 202.3L287.1 202.3ZM290.4 196.4L293.4 202.4L287.4 202.4ZM290.8 197.1L293.8 203.1L287.8 203.1ZM291.1 196.0L294.1 202.0L288.1 202.0ZM291.5 196.9L294.5 202.9L288.5 202.9ZM291.8 196.8L294.8 202.8L288.8 202.8ZM292.2 196.9L295.2 202.9L289.2 202.9ZM292.5 196.9L295.5 202.9L289.5 202.9ZM292.9 196.6L295.9 202.6L289.9 202.6ZM293.2 196.2L296.2 202.2L290.2 202.2ZM293.6 196.2L296.6 202.2L290.6 202.2ZM293.9 196.2L296.9 202.2L290.9 202.2ZM294.3 196.9L297.3 202.9L291.3 202.9ZM294.6 195.8L297.6 201.8L291.6 201.8ZM295.0 196.0L298.0 202.0L292.0 202.0ZM295.3 196.8L298.3 202.8L292.3 202.8ZM295.7 196.1L298.7 202.1L292.7 202.1ZM296.0 195.8L299.0 201.8L293.0 201.8ZM296.4 195.8L299.4 201.8L293.4 201.8ZM296.7 196.5L299.7 202.5L293.7 202.5ZM297.1 196.2L300.1 202.2L294.1 202.2ZM297.4 197.2L300.4 203.2L294.4 203.2ZM297.8 197.0L300.8 203.0L294.8 203.0ZM298.1 197.2L301.1 203.2L295.1 203.2ZM298.5 196.1L301.5 202.1L295.5 202.1ZM298.8 195.8L301.8 201.8L295.8 201.8ZM299.2 195.8L302.2 201.8L296.2 201.8ZM299.5 196.4L302.5 202.4L296.5 202.4ZM299.9 196.8L302.9 202.8L296.9 202.8ZM300.2 196.4L303.2 202.4L297.2 202.4ZM300.6 196.1L303.6 202.1L297.6 202.1ZM300.9 196.3L303.9 202.3L297.9 202.3ZM301.3 196.6L304.3 202.6L298.3 202.6ZM301.6 196.7L304.6 202.7L298.6 202.7ZM302.0 196.8L305.0 202.8L299.0 202.8ZM302.3 197.0L305.3 203.0L299.3 203.0ZM302.7 196.7L305.7 202.7L299.7 202.7ZM303.1 195.9L306.1 201.9L300.1 201.9ZM303.4 197.0L306.4 203.0L300.4 203.0ZM303.8 196.1L306.8 202.1L300.8 202.1ZM304.1 196.6L307.1 202.6L301.1 202.6ZM304.5 196.3L307.5 202.3L301.5 202.3ZM304.8 196.8L307.8 202.8L301.8 202.8ZM305.2 196.0L308.2 202.0L302.2 202.0ZM305.5 196.1L308.5 202.1L302.5 202.1ZM305.9 196.1L308.9 202.1L302.9 202.1ZM306.2 195.9L309.2 201.9L303.2 201.9ZM306.6 197.0L309.6 203.0L303.6 203.0ZM306.9 196.6L309.9 202.6L303.9 202.6ZM307.3 196.2L310.3 202.2L304.3 202.2ZM307.6 196.3L310.6 202.3L304.6 202.3ZM308.0 197.2L311.0 203.2L305.0 203.2ZM308.3 196.5L311.3 202.5L305.3 202.5ZM308.7 196.0L311.7 202.0L305.7 202.0ZM309.0 196.9L312.0 202.9L306.0 202.9ZM309.4 196.7L312.4 202.7L306.4 202.7ZM309.7 197.2L312.7 203.2L306.7 203.2ZM310.1 195.9L313.1 201.9L307.1 201.9ZM310.4 196.4L313.4 202.4L307.4 202.4ZM310.8 196.9L313.8 202.9L307.8 202.9ZM311.1 197.0L314.1 203.0L308.1 203.0ZM311.5 197.1L314.5 203.1L308.5 203.1ZM311.8 195.8L314.8 201.8L308.8 201.8ZM312.2 196.1L315.2 202.1L309.2 202.1ZM312.5 195.9L315.5 201.9L309.5 201.9ZM312.9 196.0L315.9 202.0L309.9 202.0ZM313.2 197.2L316.2 203.2L310.2 203.2ZM313.6 196.6L316.6 202.6L310.6 202.6ZM313.9 197.1L316.9 203.1L310.9 203.1ZM314.3 196.3L317.3 202.3L311.3 202.3ZM314.6 197.0L317.6 203.0L311.6 203.0ZM315.0 196.4L318.0 202.4L312.0 202.4ZM315.3 196.1L318.3 202.1L312.3 202.1ZM315.7 196.9L318.7 202.9L312.7 202.9ZM316.0 197.1L319.0 203.1L313.0 203.1ZM316.4 195.9L319.4 201.9L313.4 201.9ZM316.7 196.6L319.7 202.6L313.7 202.6ZM317.1 196.6L320.1 202.6L314.1 202.6ZM317.4 196.0L320.4 202.0L314.4 202.0ZM317.8 196.3L320.8 202.3L314.8 202.3ZM318.1 195.9L321.1 201.9L315.1 201.9ZM318.5 196.0L321.5 202.0L315.5 202.0ZM318.8 196.1L321.8 202.1L315.8 202.1ZM319.2 196.6L322.2 202.6L316.2 202.6ZM319.5 196.7L322.5 202.7L316.5 202.7ZM319.9 196.0L322.9 202.0L316.9 202.0ZM320.2 195.7L323.2 201.7L317.2 201.7ZM320.6 196.2L323.6 202.2L317.6 202.2ZM320.9 196.7L323.9 202.7L317.9 202.7ZM321.3 196.0L324.3 202.0L318.3 202.0ZM321.6 196.2L324.6 202.2L318.6 202.2ZM322.0 196.0L325.0 202.0L319.0 202.0ZM322.3 196.9L325.3 202.9L319.3 202.9ZM322.7 196.5L325.7 202.5L319.7 202.5ZM323.0 195.8L326.0 201.8L320.0 201.8ZM323.4 195.9L326.4 201.9L320.4 201.9ZM323.7 196.3L326.7 202.3L320.7 202.3ZM324.1 196.5L327.1 202.5L321.1 202.5ZM324.4 196.7L327.4 202.7L321.4 202.7ZM324.8 195.8L327.8 201.8L321.8 201.8ZM325.1 195.9L328.1 201.9L322.1 201.9ZM325.5 196.7L328.5 202.7L322.5 202.7ZM330.8 39.9L333.8 45.9L327.8 45.9ZM331.0 41.9L334.0 47.9L328.0 47.9ZM331.3 42.2L334.3 48.2L328.3 48.2ZM331.7 42.9L334.7 48.9L328.7 48.9ZM332.8 44.4L335.8 50.4L329.8 50.4ZM332.7 44.2L335.7 50.2L329.7 50.2ZM333.0 44.4L336.0 50.4L330.0 50.4ZM333.4 45.7L336.4 51.7L330.4 51.7ZM333.7 44.6L336.7 50.6L330.7 50.6ZM334.1 43.4L337.1 49.4L331.1 49.4ZM334.4 43.9L337.4 49.9L331.4 49.9ZM334.8 42.3L337.8 48.3L331.8 48.3ZM335.1 42.7L338.1 48.7L332.1 48.7ZM335.3 44.2L338.3 50.2L332.3 50.2ZM335.7 44.7L338.7 50.7L332.7 50.7ZM335.4 46.4L338.4 52.4L332.4 52.4ZM336.7 47.4L339.7 53.4L333.7 53.4ZM336.2 47.3L339.2 53.3L333.2 53.3ZM337.2 47.6L340.2 53.6L334.2 53.6ZM337.6 48.2L340.6 54.2L334.6 54.2ZM337.9 48.1L340.9 54.1L334.9 54.1ZM338.3 48.6L341.3 54.6L335.3 54.6ZM338.6 49.4L341.6 55.4L335.6 55.4ZM339.0 50.4L342.0 56.4L336.0 56.4ZM339.3 49.5L342.3 55.5L336.3 55.5ZM339.7 50.5L342.7 56.5L336.7 56.5ZM340.0 51.3L343.0 57.3L337.0 57.3ZM340.4 51.6L343.4 57.6L337.4 57.6ZM340.7 50.5L343.7 56.5L337.7 56.5ZM341.1 50.5L344.1 56.5L338.1 56.5ZM341.4 51.8L344.4 57.8L338.4 57.8ZM341.8 51.9L344.8 57.9L338.8 57.9ZM342.1 51.2L345.1 57.2L339.1 57.2ZM342.5 50.6L345.5 56.6L339.5 56.6ZM342.8 52.0L345.8 58.0L339.8 58.0ZM343.2 51.2L346.2 57.2L340.2 57.2ZM343.5 52.0L346.5 58.0L340.5 58.0ZM343.9 51.7L346.9 57.7L340.9 57.7ZM344.2 52.0L347.2 58.0L341.2 58.0ZM344.6 51.1L347.6 57.1L341.6 57.1ZM344.9 52.1L347.9 58.1L341.9 58.1ZM345.3 51.3L348.3 57.3L342.3 57.3ZM345.6 51.7L348.6 57.7L342.6 57.7ZM346.0 52.4L349.0 58.4L343.0 58.4ZM346.3 52.4L349.3 58.4L343.3 58.4ZM346.7 51.5L349.7 57.5L343.7 57.5ZM347.0 51.6L350.0 57.6L344.0 57.6ZM347.4 51.9L350.4 57.9L344.4 57.9ZM347.7 52.2L350.7 58.2L344.7 58.2ZM348.1 52.0L351.1 58.0L345.1 58.0ZM348.4 51.7L351.4 57.7L345.4 57.7ZM348.8 51.9L351.8 57.9L345.8 57.9ZM349.1 52.6L352.1 58.6L346.1 58.6ZM349.5 52.9L352.5 58.9L346.5 58.9ZM349.8 51.6L352.8 57.6L346.8 57.6ZM350.2 52.4L353.2 58.4L347.2 58.4ZM350.5 52.7L353.5 58.7L347.5 58.7ZM350.9 51.6L353.9 57.6L347.9 57.6ZM351.2 52.9L354.2 58.9L348.2 58.9ZM351.6 51.8L354.6 57.8L348.6 57.8ZM351.9 52.5L354.9 58.5L348.9 58.5ZM352.3 52.5L355.3 58.5L349.3 58.5ZM352.6 52.6L355.6 58.6L349.6 58.6ZM353.0 52.1L356.0 58.1L350.0 58.1ZM353.3 52.3L356.3 58.3L350.3 58.3ZM353.7 52.6L356.7 58.6L350.7 58.6ZM354.0 52.3L357.0 58.3L351.0 58.3ZM354.4 52.7L357.4 58.7L351.4 58.7ZM354.7 52.4L357.7 58.4L351.7 58.4ZM355.1 52.4L358.1 58.4L352.1 58.4ZM355.4 51.8L358.4 57.8L352.4 57.8ZM355.8 52.7L358.8 58.7L352.8 58.7ZM356.1 52.5L359.1 58.5L353.1 58.5ZM356.5 52.1L359.5 58.1L353.5 58.1ZM356.8 52.9L359.8 58.9L353.8 58.9ZM357.2 52.7L360.2 58.7L354.2 58.7ZM357.5 52.0L360.5 58.0L354.5 58.0ZM357.4 51.4L360.4 57.4L354.4 57.4ZM357.6 50.7L360.6 56.7L354.6 56.7ZM358.6 50.7L361.6 56.7L355.6 56.7ZM358.9 49.1L361.9 55.1L355.9 55.1ZM359.3 48.6L362.3 54.6L356.3 54.6ZM359.6 49.6L362.6 55.6L356.6 55.6ZM360.0 50.1L363.0 56.1L357.0 56.1ZM360.5 51.0L363.5 57.0L357.5 57.0ZM360.7 52.4L363.7 58.4L357.7 58.4ZM361.0 52.6L364.0 58.6L358.0 58.6ZM361.4 52.2L364.4 58.2L358.4 58.2ZM361.7 51.6L364.7 57.6L358.7 57.6ZM362.1 52.3L365.1 58.3L359.1 58.3ZM362.4 52.2L365.4 58.2L359.4 58.2ZM362.8 53.1L365.8 59.1L359.8 59.1ZM363.1 51.9L366.1 57.9L360.1 57.9ZM363.5 53.0L366.5 59.0L360.5 59.0ZM363.8 53.3L366.8 59.3L360.8 59.3ZM364.2 52.5L367.2 58.5L361.2 58.5ZM364.5 52.3L367.5 58.3L361.5 58.3ZM364.9 52.1L367.9 58.1L361.9 58.1ZM365.2 53.3L368.2 59.3L362.2 59.3ZM365.6 52.6L368.6 58.6L362.6 58.6ZM365.9 53.3L368.9 59.3L362.9 59.3ZM366.3 53.3L369.3 59.3L363.3 59.3ZM366.6 52.2L369.6 58.2L363.6 58.2ZM367.0 53.2L370.0 59.2L364.0 59.2ZM367.3 53.4L370.3 59.4L364.3 59.4ZM367.7 52.2L370.7 58.2L364.7 58.2ZM368.0 52.6L371.0 58.6L365.0 58.6ZM368.4 53.3L371.4 59.3L365.4 59.3ZM368.7 52.4L371.7 58.4L365.7 58.4ZM369.1 53.6L372.1 59.6L366.1 59.6ZM369.4 52.7L372.4 58.7L366.4 58.7ZM369.8 53.5L372.8 59.5L366.8 59.5ZM370.1 52.5L373.1 58.5L367.1 58.5ZM370.5 53.1L373.5 59.1L367.5 59.1ZM370.8 53.8L373.8 59.8L367.8 59.8ZM371.2 52.3L374.2 58.3L368.2 58.3ZM371.5 52.1L374.5 58.1L368.5 58.1ZM371.9 53.4L374.9 59.4L368.9 59.4ZM372.2 53.2L375.2 59.2L369.2 59.2ZM372.6 53.0L375.6 59.0L369.6 59.0ZM372.9 53.3L375.9 59.3L369.9 59.3ZM373.3 53.4L376.3 59.4L370.3 59.4ZM373.6 54.7L376.6 60.7L370.6 60.7ZM374.0 54.5L377.0 60.5L371.0 60.5ZM374.3 54.9L377.3 60.9L371.3 60.9ZM374.7 54.0L377.7 60.0L371.7 60.0ZM375.0 55.1L378.0 61.1L372.0 61.1ZM375.4 54.2L378.4 60.2L372.4 60.2ZM375.7 55.0L378.7 61.0L372.7 61.0ZM376.1 55.3L379.1 61.3L373.1 61.3ZM376.4 55.0L379.4 61.0L373.4 61.0ZM376.8 55.9L379.8 61.9L373.8 61.9ZM377.1 55.6L380.1 61.6L374.1 61.6ZM377.5 55.7L380.5 61.7L374.5 61.7ZM377.8 56.3L380.8 62.3L374.8 62.3ZM378.2 55.3L381.2 61.3L375.2 61.3ZM378.5 56.8L381.5 62.8L375.5 62.8ZM378.9 56.4L381.9 62.4L375.9 62.4ZM379.2 56.2L382.2 62.2L376.2 62.2ZM379.6 57.0L382.6 63.0L376.6 63.0ZM379.9 56.4L382.9 62.4L376.9 62.4ZM380.3 57.6L383.3 63.6L377.3 63.6ZM380.6 57.2L383.6 63.2L377.6 63.2ZM381.0 57.0L384.0 63.0L378.0 63.0ZM381.3 57.8L384.3 63.8L378.3 63.8ZM381.7 57.5L384.7 63.5L378.7 63.5ZM382.0 57.2L385.0 63.2L379.0 63.2ZM382.4 58.2L385.4 64.2L379.4 64.2ZM382.7 57.4L385.7 63.4L379.7 63.4ZM383.1 58.7L386.1 64.7L380.1 64.7ZM383.4 58.0L386.4 64.0L380.4 64.0ZM383.8 58.8L386.8 64.8L380.8 64.8ZM384.1 59.4L387.1 65.4L381.1 65.4ZM384.5 59.0L387.5 65.0L381.5 65.0ZM384.8 59.3L387.8 65.3L381.8 65.3ZM385.2 59.0L388.2 65.0L382.2 65.0ZM385.5 58.7L388.5 64.7L382.5 64.7ZM385.9 59.0L388.9 65.0L382.9 65.0ZM386.2 59.4L389.2 65.4L383.2 65.4ZM386.6 60.4L389.6 66.4L383.6 66.4ZM386.9 60.4L389.9 66.4L383.9 66.4ZM387.3 60.7L390.3 66.7L384.3 66.7ZM387.6 61.5L390.6 67.5L384.6 67.5ZM388.0 60.6L391.0 66.6L385.0 66.6ZM388.3 61.0L391.3 67.0L385.3 67.0ZM388.7 61.9L391.7 67.9L385.7 67.9ZM389.0 61.2L392.0 67.2L386.0 67.2ZM389.4 61.4L392.4 67.4L386.4 67.4ZM389.7 62.2L392.7 68.2L386.7 68.2ZM390.1 62.0L393.1 68.0L387.1 68.0ZM390.4 62.6L393.4 68.6L387.4 68.6ZM390.8 62.7L393.8 68.7L387.8 68.7ZM391.1 63.5L394.1 69.5L388.1 69.5ZM391.5 63.7L394.5 69.7L388.5 69.7ZM391.8 63.4L394.8 69.4L388.8 69.4ZM392.2 64.2L395.2 70.2L389.2 70.2ZM392.5 64.3L395.5 70.3L389.5 70.3ZM392.9 64.0L395.9 70.0L389.9 70.0ZM393.2 65.4L396.2 71.4L390.2 71.4ZM393.6 64.6L396.6 70.6L390.6 70.6ZM393.9 64.7L396.9 70.7L390.9 70.7ZM394.3 64.9L397.3 70.9L391.3 70.9ZM394.6 65.9L397.6 71.9L391.6 71.9ZM395.0 66.5L398.0 72.5L392.0 72.5ZM395.3 66.6L398.3 72.6L392.3 72.6ZM395.7 66.3L398.7 72.3L392.7 72.3ZM396.0 66.3L399.0 72.3L393.0 72.3ZM396.4 66.2L399.4 72.2L393.4 72.2ZM396.7 67.4L399.7 73.4L393.7 73.4ZM397.1 67.5L400.1 73.5L394.1 73.5ZM397.4 67.4L400.4 73.4L394.4 73.4ZM397.8 68.1L400.8 74.1L394.8 74.1ZM398.1 68.0L401.1 74.0L395.1 74.0ZM398.5 69.0L401.5 75.0L395.5 75.0ZM398.8 69.0L401.8 75.0L395.8 75.0ZM399.2 68.5L402.2 74.5L396.2 74.5ZM399.5 69.8L402.5 75.8L396.5 75.8ZM399.9 68.9L402.9 74.9L396.9 74.9ZM400.2 70.0L403.2 76.0L397.2 76.0ZM400.6 70.1L403.6 76.1L397.6 76.1ZM400.9 70.2L403.9 76.2L397.9 76.2ZM401.3 70.3L404.3 76.3L398.3 76.3ZM401.6 71.7L404.6 77.7L398.6 77.7ZM402.0 70.9L405.0 76.9L399.0 76.9ZM402.3 72.0L405.3 78.0L399.3 78.0ZM402.7 73.0L405.7 79.0L399.7 79.0ZM403.0 72.1L406.0 78.1L400.0 78.1ZM403.4 72.5L406.4 78.5L400.4 78.5ZM403.7 73.5L406.7 79.5L400.7 79.5ZM404.1 73.7L407.1 79.7L401.1 79.7ZM404.4 74.2L407.4 80.2L401.4 80.2ZM404.8 74.8L407.8 80.8L401.8 80.8ZM405.1 74.2L408.1 80.2L402.1 80.2ZM405.5 74.7L408.5 80.7L402.5 80.7ZM405.8 75.1L408.8 81.1L402.8 81.1ZM406.2 75.0L409.2 81.0L403.2 81.0ZM406.5 76.6L409.5 82.6L403.5 82.6ZM406.9 76.9L409.9 82.9L403.9 82.9ZM407.2 77.1L410.2 83.1L404.2 83.1ZM407.6 76.4L410.6 82.4L404.6 82.4ZM407.9 78.1L410.9 84.1L404.9 84.1ZM408.3 78.3L411.3 84.3L405.3 84.3ZM408.6 78.2L411.6 84.2L405.6 84.2ZM409.0 79.0L412.0 85.0L406.0 85.0ZM409.3 78.9L412.3 84.9L406.3 84.9ZM409.7 79.0L412.7 85.0L406.7 85.0ZM410.0 79.2L413.0 85.2L407.0 85.2ZM410.4 79.7L413.4 85.7L407.4 85.7ZM410.7 79.8L413.7 85.8L407.7 85.8ZM411.1 80.6L414.1 86.6L408.1 86.6ZM411.4 81.6L414.4 87.6L408.4 87.6ZM411.8 81.9L414.8 87.9L408.8 87.9ZM412.1 82.5L415.1 88.5L409.1 88.5ZM412.5 82.6L415.5 88.6L409.5 88.6ZM412.8 82.3L415.8 88.3L409.8 88.3ZM413.2 83.1L416.2 89.1L410.2 89.1ZM413.5 83.3L416.5 89.3L410.5 89.3ZM413.9 84.2L416.9 90.2L410.9 90.2ZM414.2 84.2L417.2 90.2L411.2 90.2ZM414.6 84.2L417.6 90.2L411.6 90.2ZM414.9 85.1L417.9 91.1L411.9 91.1ZM415.3 86.0L418.3 92.0L412.3 92.0ZM415.6 85.2L418.6 91.2L412.6 91.2ZM416.5 85.0L419.5 91.0L413.5 91.0ZM415.9 85.9L418.9 91.9L412.9 91.9ZM417.0 87.6L420.0 93.6L414.0 93.6ZM417.4 87.1L420.4 93.1L414.4 93.1ZM417.9 87.7L420.9 93.7L414.9 93.7ZM417.3 89.2L420.3 95.2L414.3 95.2ZM418.2 89.4L421.2 95.4L415.2 95.4ZM418.6 90.4L421.6 96.4L415.6 96.4ZM418.7 90.7L421.7 96.7L415.7 96.7ZM419.4 91.3L422.4 97.3L416.4 97.3ZM419.4 91.6L422.4 97.6L416.4 97.6ZM419.9 91.5L422.9 97.5L416.9 97.5ZM419.7 92.6L422.7 98.6L416.7 98.6ZM419.9 93.6L422.9 99.6L416.9 99.6ZM420.3 92.7L423.3 98.7L417.3 98.7ZM420.6 94.7L423.6 100.7L417.6 100.7ZM421.3 94.0L424.3 100.0L418.3 100.0ZM421.2 94.4L424.2 100.4L418.2 100.4ZM422.5 95.9L425.5 101.9L419.5 101.9ZM422.9 96.6L425.9 102.6L419.9 102.6ZM422.3 96.9L425.3 102.9L419.3 102.9ZM423.1 97.9L426.1 103.9L420.1 103.9ZM424.1 98.5L427.1 104.5L421.1 104.5ZM423.3 99.1L426.3 105.1L420.3 105.1ZM425.0 99.7L428.0 105.7L422.0 105.7ZM424.1 99.1L427.1 105.1L421.1 105.1ZM424.5 99.4L427.5 105.4L421.5 105.4ZM425.9 101.2L428.9 107.2L422.9 107.2ZM426.0 101.8L429.0 107.8L423.0 107.8ZM426.3 101.5L429.3 107.5L423.3 107.5ZM425.8 101.7L428.8 107.7L422.8 107.7ZM427.2 102.4L430.2 108.4L424.2 108.4ZM426.9 103.3L429.9 109.3L423.9 109.3ZM426.8 103.6L429.8 109.6L423.8 109.6ZM427.5 104.9L430.5 110.9L424.5 110.9ZM428.0 104.8L431.0 110.8L425.0 110.8ZM429.2 105.7L432.2 111.7L426.2 111.7ZM428.9 107.1L431.9 113.1L425.9 113.1ZM429.3 107.1L432.3 113.1L426.3 113.1ZM429.6 106.6L432.6 112.6L426.6 112.6ZM430.0 107.5L433.0 113.5L427.0 113.5ZM430.3 107.8L433.3 113.8L427.3 113.8ZM430.7 108.6L433.7 114.6L427.7 114.6ZM431.0 108.3L434.0 114.3L428.0 114.3ZM431.4 109.1L434.4 115.1L428.4 115.1ZM431.7 109.2L434.7 115.2L428.7 115.2ZM432.1 109.0L435.1 115.0L429.1 115.0ZM432.4 110.3L435.4 116.3L429.4 116.3ZM432.8 109.5L435.8 115.5L429.8 115.5ZM433.1 110.9L436.1 116.9L430.1 116.9ZM433.5 110.1L436.5 116.1L430.5 116.1ZM433.8 109.9L436.8 115.9L430.8 115.9ZM434.2 110.3L437.2 116.3L431.2 116.3ZM434.5 111.3L437.5 117.3L431.5 117.3ZM434.9 111.7L437.9 117.7L431.9 117.7ZM435.2 110.3L438.2 116.3L432.2 116.3ZM435.6 111.2L438.6 117.2L432.6 117.2ZM435.9 111.3L438.9 117.3L432.9 117.3ZM436.3 111.8L439.3 117.8L433.3 117.8ZM436.6 111.0L439.6 117.0L433.6 117.0ZM437.0 111.6L440.0 117.6L434.0 117.6ZM437.3 111.5L440.3 117.5L434.3 117.5ZM437.7 112.3L440.7 118.3L434.7 118.3ZM438.0 111.5L441.0 117.5L435.0 117.5ZM438.4 112.7L441.4 118.7L435.4 118.7ZM438.7 111.8L441.7 117.8L435.7 117.8ZM439.1 111.8L442.1 117.8L436.1 117.8ZM439.4 112.6L442.4 118.6L436.4 118.6ZM439.8 112.4L442.8 118.4L436.8 118.4ZM440.1 111.9L443.1 117.9L437.1 117.9ZM440.5 113.0L443.5 119.0L437.5 119.0ZM440.8 112.6L443.8 118.6L437.8 118.6ZM441.6 113.7L444.6 119.7L438.6 119.7ZM441.9 114.1L444.9 120.1L438.9 120.1ZM441.6 114.3L444.6 120.3L438.6 120.3ZM442.0 115.5L445.0 121.5L439.0 121.5ZM441.9 116.0L444.9 122.0L438.9 122.0ZM442.2 115.4L445.2 121.4L439.2 121.4ZM442.9 117.1L445.9 123.1L439.9 123.1ZM443.6 116.7L446.6 122.7L440.6 122.7ZM444.5 117.2L447.5 123.2L441.5 123.2ZM444.2 118.8L447.2 124.8L441.2 124.8ZM445.0 120.3L448.0 126.3L442.0 126.3ZM445.2 120.7L448.2 126.7L442.2 126.7ZM445.1 121.5L448.1 127.5L442.1 127.5ZM446.2 123.4L449.2 129.4L443.2 129.4ZM446.4 123.7L449.4 129.7L443.4 129.7ZM446.3 125.8L449.3 131.8L443.3 131.8ZM446.9 125.8L449.9 131.8L443.9 131.8ZM447.0 128.2L450.0 134.2L444.0 134.2ZM447.1 128.6L450.1 134.6L444.1 134.6ZM447.5 130.8L450.5 136.8L444.5 136.8ZM448.7 131.4L451.7 137.4L445.7 137.4ZM448.0 133.0L451.0 139.0L445.0 139.0ZM448.6 134.9L451.6 140.9L445.6 140.9ZM448.7 135.8L451.7 141.8L445.7 141.8ZM449.1 137.8L452.1 143.8L446.1 143.8ZM450.2 137.4L453.2 143.4L447.2 143.4ZM450.9 138.3L453.9 144.3L447.9 144.3ZM450.4 140.7L453.4 146.7L447.4 146.7ZM451.4 141.3L454.4 147.3L448.4 147.3ZM451.2 141.4L454.2 147.4L448.2 147.4ZM451.9 142.2L454.9 148.2L448.9 148.2ZM451.6 143.7L454.6 149.7L448.6 149.7ZM451.7 144.6L454.7 150.6L448.7 150.6ZM453.1 146.1L456.1 152.1L450.1 152.1ZM453.1 146.9L456.1 152.9L450.1 152.9ZM453.3 147.0L456.3 153.0L450.3 153.0ZM453.9 148.3L456.9 154.3L450.9 154.3ZM454.5 150.0L457.5 156.0L451.5 156.0ZM454.3 150.4L457.3 156.4L451.3 156.4ZM455.2 151.0L458.2 157.0L452.2 157.0ZM454.7 152.4L457.7 158.4L451.7 158.4ZM456.1 153.5L459.1 159.5L453.1 159.5ZM456.2 154.6L459.2 160.6L453.2 160.6ZM456.5 155.2L459.5 161.2L453.5 161.2ZM456.5 155.7L459.5 161.7L453.5 161.7ZM457.1 156.3L460.1 162.3L454.1 162.3ZM457.1 158.2L460.1 164.2L454.1 164.2ZM457.9 158.8L460.9 164.8L454.9 164.8ZM457.6 159.3L460.6 165.3L454.6 165.3ZM458.2 160.5L461.2 166.5L455.2 166.5ZM458.5 161.4L461.5 167.4L455.5 167.4ZM459.6 161.5L462.6 167.5L456.6 167.5ZM459.6 163.2L462.6 169.2L456.6 169.2ZM459.5 163.6L462.5 169.6L456.5 169.6ZM460.8 163.7L463.8 169.7L457.8 169.7ZM460.5 164.8L463.5 170.8L457.5 170.8ZM461.2 166.8L464.2 172.8L458.2 172.8ZM461.1 166.3L464.1 172.3L458.1 172.3ZM461.6 167.9L464.6 173.9L458.6 173.9ZM462.1 168.7L465.1 174.7L459.1 174.7ZM462.4 170.1L465.4 176.1L459.4 176.1ZM462.5 170.3L465.5 176.3L459.5 176.3ZM463.5 170.9L466.5 176.9L460.5 176.9ZM463.5 172.0L466.5 178.0L460.5 178.0ZM463.9 172.5L466.9 178.5L460.9 178.5ZM464.6 173.7L467.6 179.7L461.6 179.7ZM463.6 174.5L466.6 180.5L460.6 180.5ZM464.4 174.9L467.4 180.9L461.4 180.9ZM464.8 176.4L467.8 182.4L461.8 182.4ZM465.6 177.1L468.6 183.1L462.6 183.1ZM465.3 177.4L468.3 183.4L462.3 183.4ZM466.4 179.1L469.4 185.1L463.4 185.1ZM466.4 178.5L469.4 184.5L463.4 184.5ZM467.2 179.3L470.2 185.3L464.2 185.3ZM466.6 179.4L469.6 185.4L463.6 185.4ZM467.8 181.1L470.8 187.1L464.8 187.1ZM468.0 181.0L471.0 187.0L465.0 187.0ZM468.2 181.2L471.2 187.2L465.2 187.2ZM469.1 181.9L472.1 187.9L466.1 187.9ZM468.8 183.3L471.8 189.3L465.8 189.3ZM469.2 183.9L472.2 189.9L466.2 189.9ZM469.5 184.2L472.5 190.2L466.5 190.2ZM469.9 184.0L472.9 190.0L466.9 190.0ZM470.2 184.0L473.2 190.0L467.2 190.0ZM470.6 184.6L473.6 190.6L467.6 190.6ZM470.9 184.3L473.9 190.3L467.9 190.3ZM471.3 185.6L474.3 191.6L468.3 191.6ZM471.6 185.2L474.6 191.2L468.6 191.2ZM472.0 186.2L475.0 192.2L469.0 192.2ZM472.3 185.6L475.3 191.6L469.3 191.6ZM472.7 186.1L475.7 192.1L469.7 192.1ZM473.0 186.1L476.0 192.1L470.0 192.1ZM473.4 186.7L476.4 192.7L470.4 192.7ZM473.7 186.4L476.7 192.4L470.7 192.4ZM474.1 186.2L477.1 192.2L471.1 192.2ZM474.4 187.4L477.4 193.4L471.4 193.4ZM474.8 186.9L477.8 192.9L471.8 192.9ZM475.1 186.9L478.1 192.9L472.1 192.9ZM475.5 187.1L478.5 193.1L472.5 193.1ZM475.8 187.5L478.8 193.5L472.8 193.5ZM476.2 187.5L479.2 193.5L473.2 193.5ZM476.5 187.9L479.5 193.9L473.5 193.9ZM476.9 188.0L479.9 194.0L473.9 194.0ZM477.2 187.7L480.2 193.7L474.2 193.7ZM477.6 188.7L480.6 194.7L474.6 194.7ZM477.9 188.7L480.9 194.7L474.9 194.7ZM478.3 187.6L481.3 193.6L475.3 193.6ZM478.6 188.8L481.6 194.8L475.6 194.8ZM479.0 189.0L482.0 195.0L476.0 195.0ZM479.3 189.0L482.3 195.0L476.3 195.0ZM479.7 188.1L482.7 194.1L476.7 194.1ZM480.0 189.2L483.0 195.2L477.0 195.2ZM480.4 189.0L483.4 195.0L477.4 195.0ZM480.7 188.2L483.7 194.2L477.7 194.2ZM481.1 188.3L484.1 194.3L478.1 194.3ZM481.4 189.8L484.4 195.8L478.4 195.8ZM481.8 189.5L484.8 195.5L478.8 195.5ZM482.1 189.0L485.1 195.0L479.1 195.0ZM482.5 188.8L485.5 194.8L479.5 194.8ZM482.8 188.9L485.8 194.9L479.8 194.9ZM483.2 189.1L486.2 195.1L480.2 195.1ZM483.5 190.0L486.5 196.0L480.5 196.0ZM483.9 189.4L486.9 195.4L480.9 195.4ZM484.2 189.2L487.2 195.2L481.2 195.2ZM484.6 190.4L487.6 196.4L481.6 196.4ZM484.9 190.3L487.9 196.3L481.9 196.3ZM485.3 189.5L488.3 195.5L482.3 195.5ZM485.6 190.6L488.6 196.6L482.6 196.6ZM486.0 190.3L489.0 196.3L483.0 196.3ZM486.3 190.6L489.3 196.6L483.3 196.6ZM486.7 190.5L489.7 196.5L483.7 196.5ZM487.0 190.9L490.0 196.9L484.0 196.9ZM487.4 190.8L490.4 196.8L484.4 196.8ZM487.7 190.9L490.7 196.9L484.7 196.9ZM488.1 190.1L491.1 196.1L485.1 196.1ZM488.4 190.9L491.4 196.9L485.4 196.9ZM488.8 190.7L491.8 196.7L485.8 196.7ZM489.1 191.1L492.1 197.1L486.1 197.1ZM489.5 190.7L492.5 196.7L486.5 196.7ZM489.8 191.4L492.8 197.4L486.8 197.4ZM490.2 191.0L493.2 197.0L487.2 197.0ZM490.5 190.6L493.5 196.6L487.5 196.6ZM490.9 190.7L493.9 196.7L487.9 196.7ZM491.2 190.6L494.2 196.6L488.2 196.6ZM491.6 191.2L494.6 197.2L488.6 197.2ZM491.9 190.6L494.9 196.6L488.9 196.6ZM492.3 191.3L495.3 197.3L489.3 197.3ZM492.6 190.9L495.6 196.9L489.6 196.9ZM493.0 191.5L496.0 197.5L490.0 197.5ZM493.3 191.5L496.3 197.5L490.3 197.5ZM493.7 191.7L496.7 197.7L490.7 197.7ZM494.0 192.3L497.0 198.3L491.0 198.3ZM494.4 191.1L497.4 197.1L491.4 197.1ZM494.7 192.4L497.7 198.4L491.7 198.4ZM495.1 192.0L498.1 198.0L492.1 198.0ZM495.4 192.2L498.4 198.2L492.4 198.2ZM495.8 192.5L498.8 198.5L492.8 198.5ZM496.1 192.8L499.1 198.8L493.1 198.8ZM496.5 192.2L499.5 198.2L493.5 198.2ZM496.8 192.4L499.8 198.4L493.8 198.4ZM497.2 193.3L500.2 199.3L494.2 199.3ZM497.5 192.1L500.5 198.1L494.5 198.1ZM497.9 193.0L500.9 199.0L494.9 199.0ZM498.2 193.1L501.2 199.1L495.2 199.1ZM498.6 192.3L501.6 198.3L495.6 198.3ZM498.9 193.2L501.9 199.2L495.9 199.2ZM499.3 193.5L502.3 199.5L496.3 199.5ZM499.6 193.9L502.6 199.9L496.6 199.9ZM500.0 193.1L503.0 199.1L497.0 199.1ZM500.3 194.2L503.3 200.2L497.3 200.2ZM500.7 193.6L503.7 199.6L497.7 199.6ZM501.0 193.6L504.0 199.6L498.0 199.6ZM501.4 194.3L504.4 200.3L498.4 200.3ZM501.7 193.1L504.7 199.1L498.7 199.1ZM502.1 194.3L505.1 200.3L499.1 200.3ZM502.4 194.2L505.4 200.2L499.4 200.2ZM502.8 193.9L505.8 199.9L499.8 199.9ZM503.1 194.8L506.1 200.8L500.1 200.8ZM503.5 194.1L506.5 200.1L500.5 200.1ZM503.8 194.4L506.8 200.4L500.8 200.4ZM504.2 194.6L507.2 200.6L501.2 200.6ZM504.5 195.0L507.5 201.0L501.5 201.0ZM504.9 194.3L507.9 200.3L501.9 200.3ZM505.2 194.7L508.2 200.7L502.2 200.7ZM505.6 194.7L508.6 200.7L502.6 200.7ZM505.9 194.9L508.9 200.9L502.9 200.9ZM506.3 195.3L509.3 201.3L503.3 201.3ZM506.6 194.6L509.6 200.6L503.6 200.6ZM507.0 195.4L510.0 201.4L504.0 201.4ZM507.3 194.8L510.3 200.8L504.3 200.8ZM507.7 195.0L510.7 201.0L504.7 201.0ZM508.0 194.7L511.0 200.7L505.0 200.7ZM508.4 195.0L511.4 201.0L505.4 201.0ZM508.7 195.8L511.7 201.8L505.7 201.8ZM509.1 195.3L512.1 201.3L506.1 201.3ZM509.4 195.6L512.4 201.6L506.4 201.6ZM509.8 194.9L512.8 200.9L506.8 200.9ZM510.1 194.9L513.1 200.9L507.1 200.9ZM510.5 194.9L513.5 200.9L507.5 200.9ZM510.8 195.4L513.8 201.4L507.8 201.4ZM511.2 195.5L514.2 201.5L508.2 201.5ZM511.5 195.7L514.5 201.7L508.5 201.7ZM511.9 194.6L514.9 200.6L508.9 200.6ZM512.2 195.7L515.2 201.7L509.2 201.7ZM512.6 196.0L515.6 202.0L509.6 202.0ZM512.9 195.5L515.9 201.5L509.9 201.5ZM513.3 194.8L516.3 200.8L510.3 200.8ZM513.6 195.2L516.6 201.2L510.6 201.2ZM514.0 194.8L517.0 200.8L511.0 200.8ZM514.3 195.1L517.3 201.1L511.3 201.1ZM514.7 196.2L517.7 202.2L511.7 202.2ZM515.0 195.8L518.0 201.8L512.0 201.8ZM515.4 195.9L518.4 201.9L512.4 201.9ZM515.7 196.1L518.7 202.1L512.7 202.1ZM516.1 196.3L519.1 202.3L513.1 202.3ZM516.4 195.9L519.4 201.9L513.4 201.9ZM516.8 195.9L519.8 201.9L513.8 201.9ZM517.1 196.0L520.1 202.0L514.1 202.0ZM517.5 196.1L520.5 202.1L514.5 202.1ZM517.8 196.0L520.8 202.0L514.8 202.0ZM518.2 196.1L521.2 202.1L515.2 202.1ZM518.5 195.5L521.5 201.5L515.5 201.5ZM518.9 196.2L521.9 202.2L515.9 202.2ZM519.2 195.9L522.2 201.9L516.2 201.9ZM519.6 196.4L522.6 202.4L516.6 202.4ZM519.9 195.4L522.9 201.4L516.9 201.4ZM520.3 195.6L523.3 201.6L517.3 201.6ZM520.6 195.4L523.6 201.4L517.6 201.4ZM521.0 196.5L524.0 202.5L518.0 202.5ZM521.3 196.7L524.3 202.7L518.3 202.7ZM521.7 196.4L524.7 202.4L518.7 202.4ZM522.0 196.0L525.0 202.0L519.0 202.0ZM522.4 196.6L525.4 202.6L519.4 202.6ZM522.7 196.6L525.7 202.6L519.7 202.6ZM523.1 196.3L526.1 202.3L520.1 202.3ZM523.4 195.8L526.4 201.8L520.4 201.8ZM523.8 195.9L526.8 201.9L520.8 201.9ZM524.1 196.1L527.1 202.1L521.1 202.1ZM524.5 195.9L527.5 201.9L521.5 201.9ZM524.8 196.1L527.8 202.1L521.8 202.1ZM525.2 196.4L528.2 202.4L522.2 202.4ZM525.5 196.8L528.5 202.8L522.5 202.8ZM525.9 195.5L528.9 201.5L522.9 201.5ZM526.2 196.3L529.2 202.3L523.2 202.3ZM526.6 195.5L529.6 201.5L523.6 201.5ZM526.9 195.6L529.9 201.6L523.9 201.6ZM527.3 196.7L530.3 202.7L524.3 202.7ZM527.6 196.3L530.6 202.3L524.6 202.3ZM528.0 196.8L531.0 202.8L525.0 202.8ZM528.3 196.1L531.3 202.1L525.3 202.1ZM528.7 195.5L531.7 201.5L525.7 201.5ZM529.0 196.0L532.0 202.0L526.0 202.0ZM529.4 196.4L532.4 202.4L526.4 202.4ZM529.7 196.9L532.7 202.9L526.7 202.9ZM530.1 196.9L533.1 202.9L527.1 202.9ZM530.4 196.2L533.4 202.2L527.4 202.2ZM530.8 196.1L533.8 202.1L527.8 202.1ZM531.1 195.6L534.1 201.6L528.1 201.6ZM531.5 196.4L534.5 202.4L528.5 202.4ZM531.8 195.8L534.8 201.8L528.8 201.8ZM532.2 195.7L535.2 201.7L529.2 201.7ZM532.5 195.5L535.5 201.5L529.5 201.5ZM532.9 195.5L535.9 201.5L529.9 201.5ZM533.2 196.5L536.2 202.5L530.2 202.5ZM533.6 195.7L536.6 201.7L530.6 201.7ZM533.9 197.0L536.9 203.0L530.9 203.0ZM534.3 195.6L537.3 201.6L531.3 201.6ZM534.6 196.8L537.6 202.8L531.6 202.8ZM535.0 195.7L538.0 201.7L532.0 201.7ZM535.3 195.5L538.3 201.5L532.3 201.5ZM535.7 196.6L538.7 202.6L532.7 202.6ZM536.0 195.9L539.0 201.9L533.0 201.9ZM536.4 196.6L539.4 202.6L533.4 202.6ZM536.7 195.8L539.7 201.8L533.7 201.8ZM537.1 195.6L540.1 201.6L534.1 201.6ZM537.4 196.7L540.4 202.7L534.4 202.7ZM537.8 196.6L540.8 202.6L534.8 202.6ZM538.1 196.8L541.1 202.8L535.1 202.8ZM538.5 196.6L541.5 202.6L535.5 202.6ZM538.8 195.7L541.8 201.7L535.8 201.7ZM539.2 196.5L542.2 202.5L536.2 202.5ZM539.5 196.6L542.5 202.6L536.5 202.6ZM539.9 196.2L542.9 202.2L536.9 202.2ZM540.2 197.0L543.2 203.0L537.2 203.0ZM540.6 195.9L543.6 201.9L537.6 201.9ZM540.9 197.0L543.9 203.0L537.9 203.0ZM541.3 196.6L544.3 202.6L538.3 202.6ZM541.6 195.6L544.6 201.6L538.6 201.6ZM542.0 195.6L545.0 201.6L539.0 201.6ZM542.3 196.6L545.3 202.6L539.3 202.6ZM542.7 196.8L545.7 202.8L539.7 202.8ZM543.0 195.7L546.0 201.7L540.0 201.7ZM543.4 196.0L546.4 202.0L540.4 202.0ZM543.7 196.7L546.7 202.7L540.7 202.7ZM544.1 195.8L547.1 201.8L541.1 201.8ZM544.4 196.9L547.4 202.9L541.4 202.9ZM544.8 196.3L547.8 202.3L541.8 202.3ZM545.1 195.7L548.1 201.7L542.1 201.7ZM545.5 196.2L548.5 202.2L542.5 202.2ZM545.8 196.5L548.8 202.5L542.8 202.5ZM546.2 196.3L549.2 202.3L543.2 202.3ZM546.5 196.6L549.5 202.6L543.5 202.6ZM546.9 195.8L549.9 201.8L543.9 201.8ZM547.2 196.8L550.2 202.8L544.2 202.8ZM547.6 196.2L550.6 202.2L544.6 202.2ZM547.9 196.6L550.9 202.6L544.9 202.6ZM548.3 196.6L551.3 202.6L545.3 202.6ZM548.6 196.3L551.6 202.3L545.6 202.3ZM549.0 196.2L552.0 202.2L546.0 202.2ZM549.3 196.8L552.3 202.8L546.3 202.8ZM549.7 197.1L552.7 203.1L546.7 203.1ZM550.0 196.8L553.0 202.8L547.0 202.8ZM550.4 196.5L553.4 202.5L547.4 202.5ZM550.7 196.1L553.7 202.1L547.7 202.1ZM551.1 195.7L554.1 201.7L548.1 201.7ZM551.4 197.1L554.4 203.1L548.4 203.1ZM551.8 196.7L554.8 202.7L548.8 202.7ZM552.1 196.9L555.1 202.9L549.1 202.9ZM552.5 196.2L555.5 202.2L549.5 202.2ZM552.8 196.6L555.8 202.6L549.8 202.6ZM553.2 197.1L556.2 203.1L550.2 203.1ZM553.5 196.9L556.5 202.9L550.5 202.9ZM553.9 196.6L556.9 202.6L550.9 202.6ZM554.2 196.1L557.2 202.1L551.2 202.1ZM554.6 196.3L557.6 202.3L551.6 202.3ZM554.9 197.0L557.9 203.0L551.9 203.0ZM555.3 196.2L558.3 202.2L552.3 202.2ZM555.6 196.7L558.6 202.7L552.6 202.7ZM556.0 196.6L559.0 202.6L553.0 202.6ZM556.3 197.0L559.3 203.0L553.3 203.0ZM556.7 196.9L559.7 202.9L553.7 202.9ZM557.0 196.1L560.0 202.1L554.0 202.1ZM557.4 195.7L560.4 201.7L554.4 201.7ZM557.7 196.1L560.7 202.1L554.7 202.1ZM558.1 196.3L561.1 202.3L555.1 202.3ZM558.4 196.6L561.4 202.6L555.4 202.6ZM558.8 196.9L561.8 202.9L555.8 202.9ZM559.1 197.0L562.1 203.0L556.1 203.0ZM559.5 195.8L562.5 201.8L556.5 201.8ZM559.8 197.0L562.8 203.0L556.8 203.0ZM560.2 196.9L563.2 202.9L557.2 202.9ZM560.5 197.0L563.5 203.0L557.5 203.0ZM560.9 196.6L563.9 202.6L557.9 202.6ZM561.2 196.1L564.2 202.1L558.2 202.1ZM561.6 197.0L564.6 203.0L558.6 203.0ZM561.9 197.0L564.9 203.0L558.9 203.0ZM562.3 196.8L565.3 202.8L559.3 202.8ZM562.6 197.1L565.6 203.1L559.6 203.1ZM563.0 196.3L566.0 202.3L560.0 202.3ZM563.3 195.9L566.3 201.9L560.3 201.9ZM563.7 196.6L566.7 202.6L560.7 202.6ZM564.0 197.0L567.0 203.0L561.0 203.0ZM564.4 196.1L567.4 202.1L561.4 202.1ZM564.7 196.9L567.7 202.9L561.7 202.9ZM565.1 197.2L568.1 203.2L562.1 203.2ZM565.4 196.1L568.4 202.1L562.4 202.1ZM565.8 196.7L568.8 202.7L562.8 202.7ZM566.1 196.8L569.1 202.8L563.1 202.8ZM566.5 196.5L569.5 202.5L563.5 202.5ZM566.8 196.1L569.8 202.1L563.8 202.1ZM567.2 196.2L570.2 202.2L564.2 202.2ZM567.5 196.9L570.5 202.9L564.5 202.9ZM567.9 197.0L570.9 203.0L564.9 203.0ZM568.2 196.5L571.2 202.5L565.2 202.5ZM568.6 195.9L571.6 201.9L565.6 201.9ZM568.9 197.0L571.9 203.0L565.9 203.0ZM569.3 197.0L572.3 203.0L566.3 203.0ZM569.6 196.2L572.6 202.2L566.6 202.2ZM570.0 196.7L573.0 202.7L567.0 202.7ZM570.3 197.1L573.3 203.1L567.3 203.1ZM570.7 197.1L573.7 203.1L567.7 203.1ZM571.0 196.6L574.0 202.6L568.0 202.6ZM571.4 196.5L574.4 202.5L568.4 202.5ZM571.7 196.7L574.7 202.7L568.7 202.7ZM572.1 196.1L575.1 202.1L569.1 202.1ZM572.4 196.1L575.4 202.1L569.4 202.1ZM572.8 196.1L575.8 202.1L569.8 202.1ZM573.1 196.9L576.1 202.9L570.1 202.9ZM573.5 196.4L576.5 202.4L570.5 202.4ZM573.8 196.7L576.8 202.7L570.8 202.7ZM574.2 196.4L577.2 202.4L571.2 202.4ZM574.5 196.6L577.5 202.6L571.5 202.6ZM574.9 196.0L577.9 202.0L571.9 202.0ZM575.2 195.9L578.2 201.9L572.2 201.9ZM575.6 197.3L578.6 203.3L572.6 203.3ZM575.9 196.4L578.9 202.4L572.9 202.4ZM576.3 196.0L579.3 202.0L573.3 202.0ZM576.6 196.8L579.6 202.8L573.6 202.8ZM577.0 197.0L580.0 203.0L574.0 203.0ZM577.3 196.1L580.3 202.1L574.3 202.1ZM577.7 196.7L580.7 202.7L574.7 202.7ZM578.0 196.3L581.0 202.3L575.0 202.3ZM578.4 196.6L581.4 202.6L575.4 202.6ZM578.7 195.9L581.7 201.9L575.7 201.9ZM579.1 195.9L582.1 201.9L576.1 201.9ZM579.4 197.3L582.4 203.3L576.4 203.3ZM579.8 197.1L582.8 203.1L576.8 203.1ZM580.1 196.6L583.1 202.6L577.1 202.6ZM580.5 196.7L583.5 202.7L577.5 202.7ZM580.8 196.2L583.8 202.2L577.8 202.2ZM581.2 197.0L584.2 203.0L578.2 203.0ZM581.5 196.5L584.5 202.5L578.5 202.5ZM581.9 197.3L584.9 203.3L578.9 203.3ZM582.2 197.0L585.2 203.0L579.2 203.0ZM582.6 197.1L585.6 203.1L579.6 203.1ZM582.9 197.3L585.9 203.3L579.9 203.3ZM583.3 196.2L586.3 202.2L580.3 202.2ZM583.6 195.9L586.6 201.9L580.6 201.9ZM584.0 196.1L587.0 202.1L581.0 202.1ZM584.3 196.1L587.3 202.1L581.3 202.1ZM584.7 196.0L587.7 202.0L581.7 202.0ZM585.0 195.9L588.0 201.9L582.0 201.9ZM585.4 196.7L588.4 202.7L582.4 202.7ZM585.7 197.1L588.7 203.1L582.7 203.1ZM586.1 196.5L589.1 202.5L583.1 202.5ZM586.4 197.3L589.4 203.3L583.4 203.3ZM586.8 197.2L589.8 203.2L583.8 203.2ZM587.1 195.9L590.1 201.9L584.1 201.9ZM587.5 196.7L590.5 202.7L584.5 202.7ZM587.8 196.4L590.8 202.4L584.8 202.4ZM588.2 196.0L591.2 202.0L585.2 202.0ZM588.5 197.3L591.5 203.3L585.5 203.3ZM588.9 196.2L591.9 202.2L585.9 202.2ZM589.2 196.7L592.2 202.7L586.2 202.7ZM589.6 196.8L592.6 202.8L586.6 202.8ZM589.9 197.3L592.9 203.3L586.9 203.3ZM590.3 196.9L593.3 202.9L587.3 202.9ZM590.6 196.4L593.6 202.4L587.6 202.4ZM591.0 196.5L594.0 202.5L588.0 202.5ZM591.3 196.1L594.3 202.1L588.3 202.1ZM591.7 197.3L594.7 203.3L588.7 203.3ZM592.0 197.3L595.0 203.3L589.0 203.3ZM592.4 196.2L595.4 202.2L589.4 202.2ZM592.7 195.9L595.7 201.9L589.7 201.9ZM593.1 196.2L596.1 202.2L590.1 202.2ZM593.4 196.4L596.4 202.4L590.4 202.4ZM593.8 197.2L596.8 203.2L590.8 203.2ZM594.1 197.2L597.1 203.2L591.1 203.2ZM594.5 197.1L597.5 203.1L591.5 203.1ZM594.8 195.9L597.8 201.9L591.8 201.9ZM595.2 197.0L598.2 203.0L592.2 203.0ZM595.5 196.9L598.5 202.9L592.5 202.9ZM595.9 196.8L598.9 202.8L592.9 202.8ZM596.2 197.3L599.2 203.3L593.2 203.3ZM596.6 196.0L599.6 202.0L593.6 202.0ZM596.9 196.1L599.9 202.1L593.9 202.1ZM597.3 197.0L600.3 203.0L594.3 203.0ZM597.6 197.3L600.6 203.3L594.6 203.3ZM598.0 196.9L601.0 202.9L595.0 202.9ZM598.3 196.3L601.3 202.3L595.3 202.3ZM598.7 196.8L601.7 202.8L595.7 202.8ZM599.0 197.0L602.0 203.0L596.0 203.0ZM599.4 196.0L602.4 202.0L596.4 202.0ZM599.7 196.4L602.7 202.4L596.7 202.4ZM600.1 196.3L603.1 202.3L597.1 202.3ZM600.4 196.1L603.4 202.1L597.4 202.1ZM600.8 196.6L603.8 202.6L597.8 202.6ZM601.1 196.1L604.1 202.1L598.1 202.1ZM601.5 196.2L604.5 202.2L598.5 202.2ZM601.8 196.1L604.8 202.1L598.8 202.1ZM602.2 196.9L605.2 202.9L599.2 202.9ZM602.5 195.9L605.5 201.9L599.5 201.9ZM602.9 197.0L605.9 203.0L599.9 203.0ZM603.2 196.2L606.2 202.2L600.2 202.2ZM603.6 195.9L606.6 201.9L600.6 201.9ZM603.9 197.3L606.9 203.3L600.9 203.3ZM604.3 196.2L607.3 202.2L601.3 202.2ZM604.6 197.3L607.6 203.3L601.6 203.3ZM605.0 197.2L608.0 203.2L602.0 203.2ZM605.3 197.2L608.3 203.2L602.3 203.2ZM605.7 196.1L608.7 202.1L602.7 202.1ZM606.0 196.6L609.0 202.6L603.0 202.6ZM606.4 196.0L609.4 202.0L603.4 202.0ZM606.7 197.3L609.7 203.3L603.7 203.3ZM607.1 197.2L610.1 203.2L604.1 203.2ZM607.4 196.8L610.4 202.8L604.4 202.8ZM607.8 196.6L610.8 202.6L604.8 202.6ZM608.1 196.4L611.1 202.4L605.1 202.4ZM608.5 197.1L611.5 203.1L605.5 203.1ZM608.8 196.6L611.8 202.6L605.8 202.6ZM609.2 196.8L612.2 202.8L606.2 202.8ZM609.5 196.1L612.5 202.1L606.5 202.1ZM609.9 196.2L612.9 202.2L606.9 202.2ZM610.2 196.0L613.2 202.0L607.2 202.0ZM610.6 197.0L613.6 203.0L607.6 203.0ZM610.9 196.8L613.9 202.8L607.9 202.8ZM611.3 196.2L614.3 202.2L608.3 202.2ZM611.6 197.3L614.6 203.3L608.6 203.3ZM612.0 196.4L615.0 202.4L609.0 202.4ZM612.3 196.6L615.3 202.6L609.3 202.6ZM612.7 196.2L615.7 202.2L609.7 202.2ZM613.0 196.4L616.0 202.4L610.0 202.4ZM613.4 197.3L616.4 203.3L610.4 203.3ZM613.7 196.5L616.7 202.5L610.7 202.5ZM614.1 196.3L617.1 202.3L611.1 202.3ZM614.4 196.8L617.4 202.8L611.4 202.8ZM614.8 196.6L617.8 202.6L611.8 202.6ZM615.1 197.5L618.1 203.5L612.1 203.5ZM326.7 196.5L329.7 202.5L323.7 202.5ZM327.8 158.2L330.8 164.2L324.8 164.2ZM328.1 122.8L331.1 128.8L325.1 128.8ZM329.8 57.5L332.8 63.5L326.8 63.5ZM329.7 47.3L332.7 53.3L326.7 53.3ZM330.9 40.0L333.9 46.0L327.9 46.0ZM612.0 192.0L615.0 198.0L609.0 198.0Z" fill="#a6a6a6"/>
<path d="M207.3 7.1H235" stroke="#000" stroke-width="2" stroke-linecap="round"/>
<path d="M339.8 7.1H369.2" stroke="#000" stroke-width="1.9" stroke-dasharray="4.8 1.75"/>
<path d="M446.2 7.2H475.8" stroke="#a6a6a6" stroke-width="1.5" stroke-dasharray="4.9 1.7"/>
<path d="M460.8 4.0L463.9 10.2L457.7 10.2Z" fill="#a6a6a6"/>
<g font-family='"Liberation Serif", serif' font-size="13" fill="#000" text-rendering="geometricPrecision">
<text x="23.4" y="206.4" text-anchor="end" >0</text>
<text x="23.4" y="178.7" text-anchor="end" >1</text>
<text x="23.4" y="150.9" text-anchor="end" >2</text>
<text x="23.4" y="123.2" text-anchor="end" >3</text>
<text x="23.4" y="95.4" text-anchor="end" >4</text>
<text x="23.4" y="67.7" text-anchor="end" >5</text>
<text x="23.4" y="39.9" text-anchor="end" >6</text>
<text x="651.2" y="206.1" text-anchor="start" >0</text>
<text x="651.2" y="189.4" text-anchor="start" >1</text>
<text x="651.2" y="172.8" text-anchor="start" >2</text>
<text x="651.2" y="156.2" text-anchor="start" >3</text>
<text x="651.2" y="139.5" text-anchor="start" >4</text>
<text x="651.2" y="122.8" text-anchor="start" >5</text>
<text x="651.2" y="106.2" text-anchor="start" >6</text>
<text x="651.2" y="89.5" text-anchor="start" >7</text>
<text x="651.2" y="72.9" text-anchor="start" >8</text>
<text x="651.2" y="56.3" text-anchor="start" >9</text>
<text x="651.2" y="39.6" text-anchor="start" >10</text>
<text x="34.9" y="219.6" text-anchor="middle" >0</text>
<text x="95.4" y="219.6" text-anchor="middle" >10</text>
<text x="155.8" y="219.6" text-anchor="middle" >20</text>
<text x="216.3" y="219.6" text-anchor="middle" >30</text>
<text x="276.7" y="219.6" text-anchor="middle" >40</text>
<text x="337.2" y="219.6" text-anchor="middle" >50</text>
<text x="397.7" y="219.6" text-anchor="middle" >60</text>
<text x="458.1" y="219.6" text-anchor="middle" >70</text>
<text x="518.6" y="219.6" text-anchor="middle" >80</text>
<text x="579.0" y="219.6" text-anchor="middle" >90</text>
<text x="639.5" y="219.6" text-anchor="middle" >100</text>
<text x="314.8" y="236.8" text-anchor="start" >Time (h)</text>
<text x="239.3" y="10.9" text-anchor="start" >Ammonium</text>
<text x="372.3" y="10.9" text-anchor="start" >Nitrate</text>
<text x="478.8" y="10.9" text-anchor="start" >Oxygen</text>
<text transform="translate(11.4,177.9) rotate(-90)">Concentration (mg L<tspan font-size="8.5" dy="-5">-1</tspan><tspan dy="5">)</tspan></text>
<text transform="translate(681.3,188.8) rotate(-90)">DIssolved Oxygen (mg L<tspan font-size="8.5" dy="-5">-1</tspan><tspan dy="5">)</tspan></text>
</g>
</svg>
</body></html>
